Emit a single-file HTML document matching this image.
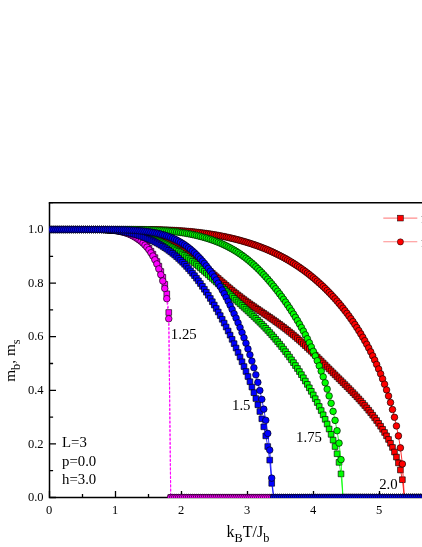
<!DOCTYPE html>
<html><head><meta charset="utf-8"><title>chart</title>
<style>
html,body{margin:0;padding:0;background:#fff;}
body{width:422px;height:547px;overflow:hidden;font-family:"Liberation Serif",serif;}
svg{display:block;font-family:"Liberation Serif",serif;}
</style></head><body>
<svg width="422" height="547" viewBox="0 0 422 547">
<rect width="422" height="547" fill="#fff"/>
<defs><clipPath id="c"><rect x="49" y="202.7" width="400" height="295.3"/></clipPath></defs>
<path d="M49.5 202.7V497.5H430" fill="none" stroke="#000" stroke-width="1.5"/>
<path d="M48.75 202.7H430" fill="none" stroke="#000" stroke-width="1.5"/>
<path d="M49.5 497.5h6.5M49.5 470.7h3.6M49.5 443.9h6.5M49.5 417.1h3.6M49.5 390.3h6.5M49.5 363.5h3.6M49.5 336.7h6.5M49.5 309.9h3.6M49.5 283.1h6.5M49.5 256.3h3.6M49.5 229.5h6.5M49.5 202.7h3.6M49.5 497.5v-6.5M82.5 497.5v-3.6M115.5 497.5v-6.5M148.5 497.5v-3.6M181.5 497.5v-6.5M214.5 497.5v-3.6M247.5 497.5v-6.5M280.5 497.5v-3.6M313.5 497.5v-6.5M346.5 497.5v-3.6M379.5 497.5v-6.5M412.5 497.5v-3.6" fill="none" stroke="#000" stroke-width="1.3"/>
<g clip-path="url(#c)">
<polyline points="49.95,229.5 51.93,229.5 53.91,229.5 55.89,229.5 57.87,229.5 59.85,229.5 61.83,229.5 63.81,229.5 65.79,229.5 67.77,229.5 69.75,229.5 71.73,229.5 73.71,229.5 75.69,229.5 77.67,229.5 79.65,229.5 81.63,229.5 83.61,229.5 85.59,229.5 87.57,229.5 89.55,229.5 91.53,229.5 93.51,229.5 95.49,229.51 97.47,229.53 99.45,229.55 101.43,229.58 103.41,229.62 105.39,229.68 107.37,229.74 109.35,229.82 111.33,229.91 113.31,230.01 115.29,230.13 117.27,230.27 119.25,230.43 121.23,230.61 123.21,230.81 125.19,231.03 127.17,231.27 129.15,231.53 131.13,231.81 133.11,232.12 135.09,232.45 137.07,232.81 139.05,233.19 141.03,233.6 143.01,234.04 144.99,234.51 146.97,235 148.95,235.53 150.93,236.08 152.91,236.67 154.89,237.3 156.87,237.96 158.85,238.66 160.83,239.39 162.81,240.17 164.79,240.98 166.77,241.84 168.75,242.74 170.73,243.69 172.71,244.68 174.69,245.72 176.67,246.8 178.65,247.93 180.63,249.11 182.61,250.34 184.59,251.61 186.57,252.93 188.55,254.29 190.53,255.7 192.51,257.14 194.49,258.63 196.47,260.16 198.45,261.72 200.43,263.32 202.41,264.94 204.39,266.58 206.37,268.23 208.35,269.9 210.33,271.58 212.31,273.28 214.29,275 216.27,276.73 218.25,278.46 220.23,280.2 222.21,281.92 224.19,283.63 226.17,285.32 228.15,287 230.13,288.66 232.11,290.29 234.09,291.91 236.07,293.49 238.05,295.05 240.03,296.58 242.01,298.09 243.99,299.57 245.97,301.03 247.95,302.46 249.93,303.87 251.91,305.26 253.89,306.63 255.87,308 257.85,309.35 259.83,310.7 261.81,312.04 263.79,313.37 265.77,314.71 267.75,316.05 269.73,317.39 271.71,318.76 273.69,320.13 275.67,321.53 277.65,322.94 279.63,324.37 281.61,325.83 283.59,327.31 285.57,328.82 287.55,330.35 289.53,331.93 291.51,333.54 293.49,335.18 295.47,336.85 297.45,338.56 299.43,340.29 301.41,342.06 303.39,343.86 305.37,345.69 307.35,347.55 309.33,349.42 311.31,351.32 313.29,353.24 315.27,355.17 317.25,357.11 319.23,359.07 321.21,361.03 323.19,363.01 325.17,364.99 327.15,366.96 329.13,368.93 331.11,370.9 333.09,372.86 335.07,374.82 337.05,376.79 339.03,378.75 341.01,380.7 342.99,382.67 344.97,384.63 346.95,386.61 348.93,388.6 350.91,390.61 352.89,392.65 354.87,394.7 356.85,396.79 358.83,398.91 360.81,401.07 362.79,403.28 364.77,405.55 366.75,407.87 368.73,410.26 370.71,412.71 372.69,415.23 374.67,417.84 376.65,420.53 378.63,423.33 380.61,426.24 382.59,429.3 384.57,432.5 386.55,435.88 388.53,439.47 390.51,443.31 392.49,447.46 394.47,452.01 396.45,457.08 398.43,462.9 400.41,469.97 402.39,479.69 404.37,497.5 406.35,497.5 408.33,497.5 410.31,497.5 412.29,497.5 414.27,497.5 416.25,497.5 418.23,497.5 420.21,497.5 422.19,497.5 424.17,497.5 426.15,497.5 428.13,497.5 430.11,497.5 432.09,497.5" fill="none" stroke="#f00" stroke-width="0.8"/>
<g fill="#f00" stroke="#000" stroke-width="0.65"><path d="M47.1 226.65h5.7v5.7h-5.7z"/><path d="M49.08 226.65h5.7v5.7h-5.7z"/><path d="M51.06 226.65h5.7v5.7h-5.7z"/><path d="M53.04 226.65h5.7v5.7h-5.7z"/><path d="M55.02 226.65h5.7v5.7h-5.7z"/><path d="M57 226.65h5.7v5.7h-5.7z"/><path d="M58.98 226.65h5.7v5.7h-5.7z"/><path d="M60.96 226.65h5.7v5.7h-5.7z"/><path d="M62.94 226.65h5.7v5.7h-5.7z"/><path d="M64.92 226.65h5.7v5.7h-5.7z"/><path d="M66.9 226.65h5.7v5.7h-5.7z"/><path d="M68.88 226.65h5.7v5.7h-5.7z"/><path d="M70.86 226.65h5.7v5.7h-5.7z"/><path d="M72.84 226.65h5.7v5.7h-5.7z"/><path d="M74.82 226.65h5.7v5.7h-5.7z"/><path d="M76.8 226.65h5.7v5.7h-5.7z"/><path d="M78.78 226.65h5.7v5.7h-5.7z"/><path d="M80.76 226.65h5.7v5.7h-5.7z"/><path d="M82.74 226.65h5.7v5.7h-5.7z"/><path d="M84.72 226.65h5.7v5.7h-5.7z"/><path d="M86.7 226.65h5.7v5.7h-5.7z"/><path d="M88.68 226.65h5.7v5.7h-5.7z"/><path d="M90.66 226.65h5.7v5.7h-5.7z"/><path d="M92.64 226.66h5.7v5.7h-5.7z"/><path d="M94.62 226.68h5.7v5.7h-5.7z"/><path d="M96.6 226.7h5.7v5.7h-5.7z"/><path d="M98.58 226.73h5.7v5.7h-5.7z"/><path d="M100.56 226.77h5.7v5.7h-5.7z"/><path d="M102.54 226.83h5.7v5.7h-5.7z"/><path d="M104.52 226.89h5.7v5.7h-5.7z"/><path d="M106.5 226.97h5.7v5.7h-5.7z"/><path d="M108.48 227.06h5.7v5.7h-5.7z"/><path d="M110.46 227.16h5.7v5.7h-5.7z"/><path d="M112.44 227.28h5.7v5.7h-5.7z"/><path d="M114.42 227.42h5.7v5.7h-5.7z"/><path d="M116.4 227.58h5.7v5.7h-5.7z"/><path d="M118.38 227.76h5.7v5.7h-5.7z"/><path d="M120.36 227.96h5.7v5.7h-5.7z"/><path d="M122.34 228.18h5.7v5.7h-5.7z"/><path d="M124.32 228.42h5.7v5.7h-5.7z"/><path d="M126.3 228.68h5.7v5.7h-5.7z"/><path d="M128.28 228.96h5.7v5.7h-5.7z"/><path d="M130.26 229.27h5.7v5.7h-5.7z"/><path d="M132.24 229.6h5.7v5.7h-5.7z"/><path d="M134.22 229.96h5.7v5.7h-5.7z"/><path d="M136.2 230.34h5.7v5.7h-5.7z"/><path d="M138.18 230.75h5.7v5.7h-5.7z"/><path d="M140.16 231.19h5.7v5.7h-5.7z"/><path d="M142.14 231.66h5.7v5.7h-5.7z"/><path d="M144.12 232.15h5.7v5.7h-5.7z"/><path d="M146.1 232.68h5.7v5.7h-5.7z"/><path d="M148.08 233.23h5.7v5.7h-5.7z"/><path d="M150.06 233.82h5.7v5.7h-5.7z"/><path d="M152.04 234.45h5.7v5.7h-5.7z"/><path d="M154.02 235.11h5.7v5.7h-5.7z"/><path d="M156 235.81h5.7v5.7h-5.7z"/><path d="M157.98 236.54h5.7v5.7h-5.7z"/><path d="M159.96 237.32h5.7v5.7h-5.7z"/><path d="M161.94 238.13h5.7v5.7h-5.7z"/><path d="M163.92 238.99h5.7v5.7h-5.7z"/><path d="M165.9 239.89h5.7v5.7h-5.7z"/><path d="M167.88 240.84h5.7v5.7h-5.7z"/><path d="M169.86 241.83h5.7v5.7h-5.7z"/><path d="M171.84 242.87h5.7v5.7h-5.7z"/><path d="M173.82 243.95h5.7v5.7h-5.7z"/><path d="M175.8 245.08h5.7v5.7h-5.7z"/><path d="M177.78 246.26h5.7v5.7h-5.7z"/><path d="M179.76 247.49h5.7v5.7h-5.7z"/><path d="M181.74 248.76h5.7v5.7h-5.7z"/><path d="M183.72 250.08h5.7v5.7h-5.7z"/><path d="M185.7 251.44h5.7v5.7h-5.7z"/><path d="M187.68 252.85h5.7v5.7h-5.7z"/><path d="M189.66 254.29h5.7v5.7h-5.7z"/><path d="M191.64 255.78h5.7v5.7h-5.7z"/><path d="M193.62 257.31h5.7v5.7h-5.7z"/><path d="M195.6 258.87h5.7v5.7h-5.7z"/><path d="M197.58 260.47h5.7v5.7h-5.7z"/><path d="M199.56 262.09h5.7v5.7h-5.7z"/><path d="M201.54 263.73h5.7v5.7h-5.7z"/><path d="M203.52 265.38h5.7v5.7h-5.7z"/><path d="M205.5 267.05h5.7v5.7h-5.7z"/><path d="M207.48 268.73h5.7v5.7h-5.7z"/><path d="M209.46 270.43h5.7v5.7h-5.7z"/><path d="M211.44 272.15h5.7v5.7h-5.7z"/><path d="M213.42 273.88h5.7v5.7h-5.7z"/><path d="M215.4 275.61h5.7v5.7h-5.7z"/><path d="M217.38 277.35h5.7v5.7h-5.7z"/><path d="M219.36 279.07h5.7v5.7h-5.7z"/><path d="M221.34 280.78h5.7v5.7h-5.7z"/><path d="M223.32 282.47h5.7v5.7h-5.7z"/><path d="M225.3 284.15h5.7v5.7h-5.7z"/><path d="M227.28 285.81h5.7v5.7h-5.7z"/><path d="M229.26 287.44h5.7v5.7h-5.7z"/><path d="M231.24 289.06h5.7v5.7h-5.7z"/><path d="M233.22 290.64h5.7v5.7h-5.7z"/><path d="M235.2 292.2h5.7v5.7h-5.7z"/><path d="M237.18 293.73h5.7v5.7h-5.7z"/><path d="M239.16 295.24h5.7v5.7h-5.7z"/><path d="M241.14 296.72h5.7v5.7h-5.7z"/><path d="M243.12 298.18h5.7v5.7h-5.7z"/><path d="M245.1 299.61h5.7v5.7h-5.7z"/><path d="M247.08 301.02h5.7v5.7h-5.7z"/><path d="M249.06 302.41h5.7v5.7h-5.7z"/><path d="M251.04 303.78h5.7v5.7h-5.7z"/><path d="M253.02 305.15h5.7v5.7h-5.7z"/><path d="M255 306.5h5.7v5.7h-5.7z"/><path d="M256.98 307.85h5.7v5.7h-5.7z"/><path d="M258.96 309.19h5.7v5.7h-5.7z"/><path d="M260.94 310.52h5.7v5.7h-5.7z"/><path d="M262.92 311.86h5.7v5.7h-5.7z"/><path d="M264.9 313.2h5.7v5.7h-5.7z"/><path d="M266.88 314.54h5.7v5.7h-5.7z"/><path d="M268.86 315.91h5.7v5.7h-5.7z"/><path d="M270.84 317.28h5.7v5.7h-5.7z"/><path d="M272.82 318.68h5.7v5.7h-5.7z"/><path d="M274.8 320.09h5.7v5.7h-5.7z"/><path d="M276.78 321.52h5.7v5.7h-5.7z"/><path d="M278.76 322.98h5.7v5.7h-5.7z"/><path d="M280.74 324.46h5.7v5.7h-5.7z"/><path d="M282.72 325.97h5.7v5.7h-5.7z"/><path d="M284.7 327.5h5.7v5.7h-5.7z"/><path d="M286.68 329.08h5.7v5.7h-5.7z"/><path d="M288.66 330.69h5.7v5.7h-5.7z"/><path d="M290.64 332.33h5.7v5.7h-5.7z"/><path d="M292.62 334h5.7v5.7h-5.7z"/><path d="M294.6 335.71h5.7v5.7h-5.7z"/><path d="M296.58 337.44h5.7v5.7h-5.7z"/><path d="M298.56 339.21h5.7v5.7h-5.7z"/><path d="M300.54 341.01h5.7v5.7h-5.7z"/><path d="M302.52 342.84h5.7v5.7h-5.7z"/><path d="M304.5 344.7h5.7v5.7h-5.7z"/><path d="M306.48 346.57h5.7v5.7h-5.7z"/><path d="M308.46 348.47h5.7v5.7h-5.7z"/><path d="M310.44 350.39h5.7v5.7h-5.7z"/><path d="M312.42 352.32h5.7v5.7h-5.7z"/><path d="M314.4 354.26h5.7v5.7h-5.7z"/><path d="M316.38 356.22h5.7v5.7h-5.7z"/><path d="M318.36 358.18h5.7v5.7h-5.7z"/><path d="M320.34 360.16h5.7v5.7h-5.7z"/><path d="M322.32 362.14h5.7v5.7h-5.7z"/><path d="M324.3 364.11h5.7v5.7h-5.7z"/><path d="M326.28 366.08h5.7v5.7h-5.7z"/><path d="M328.26 368.05h5.7v5.7h-5.7z"/><path d="M330.24 370.01h5.7v5.7h-5.7z"/><path d="M332.22 371.97h5.7v5.7h-5.7z"/><path d="M334.2 373.94h5.7v5.7h-5.7z"/><path d="M336.18 375.9h5.7v5.7h-5.7z"/><path d="M338.16 377.85h5.7v5.7h-5.7z"/><path d="M340.14 379.82h5.7v5.7h-5.7z"/><path d="M342.12 381.78h5.7v5.7h-5.7z"/><path d="M344.1 383.76h5.7v5.7h-5.7z"/><path d="M346.08 385.75h5.7v5.7h-5.7z"/><path d="M348.06 387.76h5.7v5.7h-5.7z"/><path d="M350.04 389.8h5.7v5.7h-5.7z"/><path d="M352.02 391.85h5.7v5.7h-5.7z"/><path d="M354 393.94h5.7v5.7h-5.7z"/><path d="M355.98 396.06h5.7v5.7h-5.7z"/><path d="M357.96 398.22h5.7v5.7h-5.7z"/><path d="M359.94 400.43h5.7v5.7h-5.7z"/><path d="M361.92 402.7h5.7v5.7h-5.7z"/><path d="M363.9 405.02h5.7v5.7h-5.7z"/><path d="M365.88 407.41h5.7v5.7h-5.7z"/><path d="M367.86 409.86h5.7v5.7h-5.7z"/><path d="M369.84 412.38h5.7v5.7h-5.7z"/><path d="M371.82 414.99h5.7v5.7h-5.7z"/><path d="M373.8 417.68h5.7v5.7h-5.7z"/><path d="M375.78 420.48h5.7v5.7h-5.7z"/><path d="M377.76 423.39h5.7v5.7h-5.7z"/><path d="M379.74 426.45h5.7v5.7h-5.7z"/><path d="M381.72 429.65h5.7v5.7h-5.7z"/><path d="M383.7 433.03h5.7v5.7h-5.7z"/><path d="M385.68 436.62h5.7v5.7h-5.7z"/><path d="M387.66 440.46h5.7v5.7h-5.7z"/><path d="M389.64 444.61h5.7v5.7h-5.7z"/><path d="M391.62 449.16h5.7v5.7h-5.7z"/><path d="M393.6 454.23h5.7v5.7h-5.7z"/><path d="M395.58 460.05h5.7v5.7h-5.7z"/><path d="M397.56 467.12h5.7v5.7h-5.7z"/><path d="M399.54 476.84h5.7v5.7h-5.7z"/><path d="M401.52 494.65h5.7v5.7h-5.7z"/><path d="M403.5 494.65h5.7v5.7h-5.7z"/><path d="M405.48 494.65h5.7v5.7h-5.7z"/><path d="M407.46 494.65h5.7v5.7h-5.7z"/><path d="M409.44 494.65h5.7v5.7h-5.7z"/><path d="M411.42 494.65h5.7v5.7h-5.7z"/><path d="M413.4 494.65h5.7v5.7h-5.7z"/><path d="M415.38 494.65h5.7v5.7h-5.7z"/><path d="M417.36 494.65h5.7v5.7h-5.7z"/><path d="M419.34 494.65h5.7v5.7h-5.7z"/><path d="M421.32 494.65h5.7v5.7h-5.7z"/><path d="M423.3 494.65h5.7v5.7h-5.7z"/><path d="M425.28 494.65h5.7v5.7h-5.7z"/><path d="M427.26 494.65h5.7v5.7h-5.7z"/><path d="M429.24 494.65h5.7v5.7h-5.7z"/></g>
<polyline points="49.95,229.5 51.93,229.5 53.91,229.5 55.89,229.5 57.87,229.5 59.85,229.5 61.83,229.5 63.81,229.5 65.79,229.5 67.77,229.5 69.75,229.5 71.73,229.5 73.71,229.5 75.69,229.5 77.67,229.5 79.65,229.5 81.63,229.5 83.61,229.5 85.59,229.5 87.57,229.5 89.55,229.5 91.53,229.5 93.51,229.5 95.49,229.5 97.47,229.5 99.45,229.5 101.43,229.5 103.41,229.5 105.39,229.5 107.37,229.5 109.35,229.5 111.33,229.5 113.31,229.5 115.29,229.5 117.27,229.5 119.25,229.5 121.23,229.5 123.21,229.5 125.19,229.5 127.17,229.5 129.15,229.51 131.13,229.51 133.11,229.52 135.09,229.52 137.07,229.53 139.05,229.54 141.03,229.56 143.01,229.57 144.99,229.59 146.97,229.62 148.95,229.65 150.93,229.68 152.91,229.71 154.89,229.75 156.87,229.8 158.85,229.85 160.83,229.91 162.81,229.97 164.79,230.04 166.77,230.11 168.75,230.2 170.73,230.29 172.71,230.38 174.69,230.49 176.67,230.6 178.65,230.73 180.63,230.86 182.61,231 184.59,231.15 186.57,231.31 188.55,231.48 190.53,231.67 192.51,231.86 194.49,232.06 196.47,232.28 198.45,232.51 200.43,232.74 202.41,233 204.39,233.26 206.37,233.53 208.35,233.82 210.33,234.12 212.31,234.44 214.29,234.77 216.27,235.11 218.25,235.47 220.23,235.84 222.21,236.22 224.19,236.62 226.17,237.04 228.15,237.47 230.13,237.92 232.11,238.38 234.09,238.86 236.07,239.36 238.05,239.87 240.03,240.4 242.01,240.95 243.99,241.51 245.97,242.1 247.95,242.7 249.93,243.33 251.91,243.97 253.89,244.63 255.87,245.32 257.85,246.03 259.83,246.76 261.81,247.51 263.79,248.29 265.77,249.09 267.75,249.92 269.73,250.78 271.71,251.66 273.69,252.57 275.67,253.51 277.65,254.48 279.63,255.48 281.61,256.51 283.59,257.57 285.57,258.67 287.55,259.8 289.53,260.96 291.51,262.16 293.49,263.39 295.47,264.66 297.45,265.96 299.43,267.3 301.41,268.68 303.39,270.1 305.37,271.56 307.35,273.06 309.33,274.6 311.31,276.18 313.29,277.81 315.27,279.48 317.25,281.19 319.23,282.95 321.21,284.76 323.19,286.62 325.17,288.52 327.15,290.48 329.13,292.49 331.11,294.56 333.09,296.68 335.07,298.86 337.05,301.1 339.03,303.4 341.01,305.78 342.99,308.22 344.97,310.74 346.95,313.33 348.93,316 350.91,318.76 352.89,321.6 354.87,324.53 356.85,327.56 358.83,330.68 360.81,333.91 362.79,337.26 364.77,340.71 366.75,344.3 368.73,348.01 370.71,351.87 372.69,355.88 374.67,360.06 376.65,364.43 378.63,369.01 380.61,373.82 382.59,378.88 384.57,384.24 386.55,389.93 388.53,395.99 390.51,402.51 392.49,409.57 394.47,417.31 396.45,425.96 398.43,435.89 400.41,447.87 402.39,463.99 404.37,497.5 406.35,497.5 408.33,497.5 410.31,497.5 412.29,497.5 414.27,497.5 416.25,497.5 418.23,497.5 420.21,497.5 422.19,497.5 424.17,497.5 426.15,497.5 428.13,497.5 430.11,497.5 432.09,497.5" fill="none" stroke="#f00" stroke-width="0.8"/>
<g fill="#f00" stroke="#000" stroke-width="0.65"><circle cx="49.95" cy="229.5" r="3.3"/><circle cx="51.93" cy="229.5" r="3.3"/><circle cx="53.91" cy="229.5" r="3.3"/><circle cx="55.89" cy="229.5" r="3.3"/><circle cx="57.87" cy="229.5" r="3.3"/><circle cx="59.85" cy="229.5" r="3.3"/><circle cx="61.83" cy="229.5" r="3.3"/><circle cx="63.81" cy="229.5" r="3.3"/><circle cx="65.79" cy="229.5" r="3.3"/><circle cx="67.77" cy="229.5" r="3.3"/><circle cx="69.75" cy="229.5" r="3.3"/><circle cx="71.73" cy="229.5" r="3.3"/><circle cx="73.71" cy="229.5" r="3.3"/><circle cx="75.69" cy="229.5" r="3.3"/><circle cx="77.67" cy="229.5" r="3.3"/><circle cx="79.65" cy="229.5" r="3.3"/><circle cx="81.63" cy="229.5" r="3.3"/><circle cx="83.61" cy="229.5" r="3.3"/><circle cx="85.59" cy="229.5" r="3.3"/><circle cx="87.57" cy="229.5" r="3.3"/><circle cx="89.55" cy="229.5" r="3.3"/><circle cx="91.53" cy="229.5" r="3.3"/><circle cx="93.51" cy="229.5" r="3.3"/><circle cx="95.49" cy="229.5" r="3.3"/><circle cx="97.47" cy="229.5" r="3.3"/><circle cx="99.45" cy="229.5" r="3.3"/><circle cx="101.43" cy="229.5" r="3.3"/><circle cx="103.41" cy="229.5" r="3.3"/><circle cx="105.39" cy="229.5" r="3.3"/><circle cx="107.37" cy="229.5" r="3.3"/><circle cx="109.35" cy="229.5" r="3.3"/><circle cx="111.33" cy="229.5" r="3.3"/><circle cx="113.31" cy="229.5" r="3.3"/><circle cx="115.29" cy="229.5" r="3.3"/><circle cx="117.27" cy="229.5" r="3.3"/><circle cx="119.25" cy="229.5" r="3.3"/><circle cx="121.23" cy="229.5" r="3.3"/><circle cx="123.21" cy="229.5" r="3.3"/><circle cx="125.19" cy="229.5" r="3.3"/><circle cx="127.17" cy="229.5" r="3.3"/><circle cx="129.15" cy="229.51" r="3.3"/><circle cx="131.13" cy="229.51" r="3.3"/><circle cx="133.11" cy="229.52" r="3.3"/><circle cx="135.09" cy="229.52" r="3.3"/><circle cx="137.07" cy="229.53" r="3.3"/><circle cx="139.05" cy="229.54" r="3.3"/><circle cx="141.03" cy="229.56" r="3.3"/><circle cx="143.01" cy="229.57" r="3.3"/><circle cx="144.99" cy="229.59" r="3.3"/><circle cx="146.97" cy="229.62" r="3.3"/><circle cx="148.95" cy="229.65" r="3.3"/><circle cx="150.93" cy="229.68" r="3.3"/><circle cx="152.91" cy="229.71" r="3.3"/><circle cx="154.89" cy="229.75" r="3.3"/><circle cx="156.87" cy="229.8" r="3.3"/><circle cx="158.85" cy="229.85" r="3.3"/><circle cx="160.83" cy="229.91" r="3.3"/><circle cx="162.81" cy="229.97" r="3.3"/><circle cx="164.79" cy="230.04" r="3.3"/><circle cx="166.77" cy="230.11" r="3.3"/><circle cx="168.75" cy="230.2" r="3.3"/><circle cx="170.73" cy="230.29" r="3.3"/><circle cx="172.71" cy="230.38" r="3.3"/><circle cx="174.69" cy="230.49" r="3.3"/><circle cx="176.67" cy="230.6" r="3.3"/><circle cx="178.65" cy="230.73" r="3.3"/><circle cx="180.63" cy="230.86" r="3.3"/><circle cx="182.61" cy="231" r="3.3"/><circle cx="184.59" cy="231.15" r="3.3"/><circle cx="186.57" cy="231.31" r="3.3"/><circle cx="188.55" cy="231.48" r="3.3"/><circle cx="190.53" cy="231.67" r="3.3"/><circle cx="192.51" cy="231.86" r="3.3"/><circle cx="194.49" cy="232.06" r="3.3"/><circle cx="196.47" cy="232.28" r="3.3"/><circle cx="198.45" cy="232.51" r="3.3"/><circle cx="200.43" cy="232.74" r="3.3"/><circle cx="202.41" cy="233" r="3.3"/><circle cx="204.39" cy="233.26" r="3.3"/><circle cx="206.37" cy="233.53" r="3.3"/><circle cx="208.35" cy="233.82" r="3.3"/><circle cx="210.33" cy="234.12" r="3.3"/><circle cx="212.31" cy="234.44" r="3.3"/><circle cx="214.29" cy="234.77" r="3.3"/><circle cx="216.27" cy="235.11" r="3.3"/><circle cx="218.25" cy="235.47" r="3.3"/><circle cx="220.23" cy="235.84" r="3.3"/><circle cx="222.21" cy="236.22" r="3.3"/><circle cx="224.19" cy="236.62" r="3.3"/><circle cx="226.17" cy="237.04" r="3.3"/><circle cx="228.15" cy="237.47" r="3.3"/><circle cx="230.13" cy="237.92" r="3.3"/><circle cx="232.11" cy="238.38" r="3.3"/><circle cx="234.09" cy="238.86" r="3.3"/><circle cx="236.07" cy="239.36" r="3.3"/><circle cx="238.05" cy="239.87" r="3.3"/><circle cx="240.03" cy="240.4" r="3.3"/><circle cx="242.01" cy="240.95" r="3.3"/><circle cx="243.99" cy="241.51" r="3.3"/><circle cx="245.97" cy="242.1" r="3.3"/><circle cx="247.95" cy="242.7" r="3.3"/><circle cx="249.93" cy="243.33" r="3.3"/><circle cx="251.91" cy="243.97" r="3.3"/><circle cx="253.89" cy="244.63" r="3.3"/><circle cx="255.87" cy="245.32" r="3.3"/><circle cx="257.85" cy="246.03" r="3.3"/><circle cx="259.83" cy="246.76" r="3.3"/><circle cx="261.81" cy="247.51" r="3.3"/><circle cx="263.79" cy="248.29" r="3.3"/><circle cx="265.77" cy="249.09" r="3.3"/><circle cx="267.75" cy="249.92" r="3.3"/><circle cx="269.73" cy="250.78" r="3.3"/><circle cx="271.71" cy="251.66" r="3.3"/><circle cx="273.69" cy="252.57" r="3.3"/><circle cx="275.67" cy="253.51" r="3.3"/><circle cx="277.65" cy="254.48" r="3.3"/><circle cx="279.63" cy="255.48" r="3.3"/><circle cx="281.61" cy="256.51" r="3.3"/><circle cx="283.59" cy="257.57" r="3.3"/><circle cx="285.57" cy="258.67" r="3.3"/><circle cx="287.55" cy="259.8" r="3.3"/><circle cx="289.53" cy="260.96" r="3.3"/><circle cx="291.51" cy="262.16" r="3.3"/><circle cx="293.49" cy="263.39" r="3.3"/><circle cx="295.47" cy="264.66" r="3.3"/><circle cx="297.45" cy="265.96" r="3.3"/><circle cx="299.43" cy="267.3" r="3.3"/><circle cx="301.41" cy="268.68" r="3.3"/><circle cx="303.39" cy="270.1" r="3.3"/><circle cx="305.37" cy="271.56" r="3.3"/><circle cx="307.35" cy="273.06" r="3.3"/><circle cx="309.33" cy="274.6" r="3.3"/><circle cx="311.31" cy="276.18" r="3.3"/><circle cx="313.29" cy="277.81" r="3.3"/><circle cx="315.27" cy="279.48" r="3.3"/><circle cx="317.25" cy="281.19" r="3.3"/><circle cx="319.23" cy="282.95" r="3.3"/><circle cx="321.21" cy="284.76" r="3.3"/><circle cx="323.19" cy="286.62" r="3.3"/><circle cx="325.17" cy="288.52" r="3.3"/><circle cx="327.15" cy="290.48" r="3.3"/><circle cx="329.13" cy="292.49" r="3.3"/><circle cx="331.11" cy="294.56" r="3.3"/><circle cx="333.09" cy="296.68" r="3.3"/><circle cx="335.07" cy="298.86" r="3.3"/><circle cx="337.05" cy="301.1" r="3.3"/><circle cx="339.03" cy="303.4" r="3.3"/><circle cx="341.01" cy="305.78" r="3.3"/><circle cx="342.99" cy="308.22" r="3.3"/><circle cx="344.97" cy="310.74" r="3.3"/><circle cx="346.95" cy="313.33" r="3.3"/><circle cx="348.93" cy="316" r="3.3"/><circle cx="350.91" cy="318.76" r="3.3"/><circle cx="352.89" cy="321.6" r="3.3"/><circle cx="354.87" cy="324.53" r="3.3"/><circle cx="356.85" cy="327.56" r="3.3"/><circle cx="358.83" cy="330.68" r="3.3"/><circle cx="360.81" cy="333.91" r="3.3"/><circle cx="362.79" cy="337.26" r="3.3"/><circle cx="364.77" cy="340.71" r="3.3"/><circle cx="366.75" cy="344.3" r="3.3"/><circle cx="368.73" cy="348.01" r="3.3"/><circle cx="370.71" cy="351.87" r="3.3"/><circle cx="372.69" cy="355.88" r="3.3"/><circle cx="374.67" cy="360.06" r="3.3"/><circle cx="376.65" cy="364.43" r="3.3"/><circle cx="378.63" cy="369.01" r="3.3"/><circle cx="380.61" cy="373.82" r="3.3"/><circle cx="382.59" cy="378.88" r="3.3"/><circle cx="384.57" cy="384.24" r="3.3"/><circle cx="386.55" cy="389.93" r="3.3"/><circle cx="388.53" cy="395.99" r="3.3"/><circle cx="390.51" cy="402.51" r="3.3"/><circle cx="392.49" cy="409.57" r="3.3"/><circle cx="394.47" cy="417.31" r="3.3"/><circle cx="396.45" cy="425.96" r="3.3"/><circle cx="398.43" cy="435.89" r="3.3"/><circle cx="400.41" cy="447.87" r="3.3"/><circle cx="402.39" cy="463.99" r="3.3"/><circle cx="404.37" cy="497.5" r="3.3"/><circle cx="406.35" cy="497.5" r="3.3"/><circle cx="408.33" cy="497.5" r="3.3"/><circle cx="410.31" cy="497.5" r="3.3"/><circle cx="412.29" cy="497.5" r="3.3"/><circle cx="414.27" cy="497.5" r="3.3"/><circle cx="416.25" cy="497.5" r="3.3"/><circle cx="418.23" cy="497.5" r="3.3"/><circle cx="420.21" cy="497.5" r="3.3"/><circle cx="422.19" cy="497.5" r="3.3"/><circle cx="424.17" cy="497.5" r="3.3"/><circle cx="426.15" cy="497.5" r="3.3"/><circle cx="428.13" cy="497.5" r="3.3"/><circle cx="430.11" cy="497.5" r="3.3"/><circle cx="432.09" cy="497.5" r="3.3"/></g>
<polyline points="49.95,229.5 51.93,229.5 53.91,229.5 55.89,229.5 57.87,229.5 59.85,229.5 61.83,229.5 63.81,229.5 65.79,229.5 67.77,229.5 69.75,229.5 71.73,229.5 73.71,229.5 75.69,229.5 77.67,229.5 79.65,229.5 81.63,229.5 83.61,229.5 85.59,229.5 87.57,229.5 89.55,229.5 91.53,229.5 93.51,229.5 95.49,229.52 97.47,229.54 99.45,229.57 101.43,229.62 103.41,229.68 105.39,229.76 107.37,229.85 109.35,229.96 111.33,230.09 113.31,230.24 115.29,230.4 117.27,230.6 119.25,230.82 121.23,231.06 123.21,231.33 125.19,231.62 127.17,231.95 129.15,232.29 131.13,232.67 133.11,233.07 135.09,233.49 137.07,233.95 139.05,234.44 141.03,234.95 143.01,235.5 144.99,236.07 146.97,236.67 148.95,237.31 150.93,237.98 152.91,238.69 154.89,239.43 156.87,240.2 158.85,241.01 160.83,241.86 162.81,242.75 164.79,243.68 166.77,244.65 168.75,245.67 170.73,246.73 172.71,247.83 174.69,248.98 176.67,250.18 178.65,251.41 180.63,252.7 182.61,254.03 184.59,255.41 186.57,256.84 188.55,258.3 190.53,259.81 192.51,261.35 194.49,262.93 196.47,264.55 198.45,266.21 200.43,267.9 202.41,269.61 204.39,271.33 206.37,273.07 208.35,274.83 210.33,276.6 212.31,278.39 214.29,280.19 216.27,282.01 218.25,283.84 220.23,285.68 222.21,287.51 224.19,289.33 226.17,291.15 228.15,292.97 230.13,294.78 232.11,296.59 234.09,298.39 236.07,300.18 238.05,301.97 240.03,303.75 242.01,305.54 243.99,307.34 245.97,309.15 247.95,310.98 249.93,312.81 251.91,314.66 253.89,316.53 255.87,318.41 257.85,320.32 259.83,322.26 261.81,324.24 263.79,326.26 265.77,328.33 267.75,330.43 269.73,332.58 271.71,334.78 273.69,337.03 275.67,339.34 277.65,341.7 279.63,344.11 281.61,346.58 283.59,349.11 285.57,351.7 287.55,354.34 289.53,357.05 291.51,359.82 293.49,362.66 295.47,365.56 297.45,368.52 299.43,371.55 301.41,374.65 303.39,377.82 305.37,381.07 307.35,384.41 309.33,387.83 311.31,391.35 313.29,394.96 315.27,398.68 317.25,402.51 319.23,406.47 321.21,410.58 323.19,414.85 325.17,419.33 327.15,424.03 329.13,429.02 331.11,434.36 333.09,440.14 335.07,446.51 337.05,453.75 339.03,462.38 341.01,473.87 342.99,497.5 344.97,497.5 346.95,497.5 348.93,497.5 350.91,497.5 352.89,497.5 354.87,497.5 356.85,497.5 358.83,497.5 360.81,497.5 362.79,497.5 364.77,497.5 366.75,497.5 368.73,497.5 370.71,497.5 372.69,497.5 374.67,497.5 376.65,497.5 378.63,497.5 380.61,497.5 382.59,497.5 384.57,497.5 386.55,497.5 388.53,497.5 390.51,497.5 392.49,497.5 394.47,497.5 396.45,497.5 398.43,497.5 400.41,497.5 402.39,497.5 404.37,497.5 406.35,497.5 408.33,497.5 410.31,497.5 412.29,497.5 414.27,497.5 416.25,497.5 418.23,497.5 420.21,497.5 422.19,497.5 424.17,497.5 426.15,497.5 428.13,497.5 430.11,497.5 432.09,497.5" fill="none" stroke="#0f0" stroke-width="0.8"/>
<g fill="#0f0" stroke="#000" stroke-width="0.65"><path d="M47.1 226.65h5.7v5.7h-5.7z"/><path d="M49.08 226.65h5.7v5.7h-5.7z"/><path d="M51.06 226.65h5.7v5.7h-5.7z"/><path d="M53.04 226.65h5.7v5.7h-5.7z"/><path d="M55.02 226.65h5.7v5.7h-5.7z"/><path d="M57 226.65h5.7v5.7h-5.7z"/><path d="M58.98 226.65h5.7v5.7h-5.7z"/><path d="M60.96 226.65h5.7v5.7h-5.7z"/><path d="M62.94 226.65h5.7v5.7h-5.7z"/><path d="M64.92 226.65h5.7v5.7h-5.7z"/><path d="M66.9 226.65h5.7v5.7h-5.7z"/><path d="M68.88 226.65h5.7v5.7h-5.7z"/><path d="M70.86 226.65h5.7v5.7h-5.7z"/><path d="M72.84 226.65h5.7v5.7h-5.7z"/><path d="M74.82 226.65h5.7v5.7h-5.7z"/><path d="M76.8 226.65h5.7v5.7h-5.7z"/><path d="M78.78 226.65h5.7v5.7h-5.7z"/><path d="M80.76 226.65h5.7v5.7h-5.7z"/><path d="M82.74 226.65h5.7v5.7h-5.7z"/><path d="M84.72 226.65h5.7v5.7h-5.7z"/><path d="M86.7 226.65h5.7v5.7h-5.7z"/><path d="M88.68 226.65h5.7v5.7h-5.7z"/><path d="M90.66 226.65h5.7v5.7h-5.7z"/><path d="M92.64 226.67h5.7v5.7h-5.7z"/><path d="M94.62 226.69h5.7v5.7h-5.7z"/><path d="M96.6 226.72h5.7v5.7h-5.7z"/><path d="M98.58 226.77h5.7v5.7h-5.7z"/><path d="M100.56 226.83h5.7v5.7h-5.7z"/><path d="M102.54 226.91h5.7v5.7h-5.7z"/><path d="M104.52 227h5.7v5.7h-5.7z"/><path d="M106.5 227.11h5.7v5.7h-5.7z"/><path d="M108.48 227.24h5.7v5.7h-5.7z"/><path d="M110.46 227.39h5.7v5.7h-5.7z"/><path d="M112.44 227.55h5.7v5.7h-5.7z"/><path d="M114.42 227.75h5.7v5.7h-5.7z"/><path d="M116.4 227.97h5.7v5.7h-5.7z"/><path d="M118.38 228.21h5.7v5.7h-5.7z"/><path d="M120.36 228.48h5.7v5.7h-5.7z"/><path d="M122.34 228.77h5.7v5.7h-5.7z"/><path d="M124.32 229.1h5.7v5.7h-5.7z"/><path d="M126.3 229.44h5.7v5.7h-5.7z"/><path d="M128.28 229.82h5.7v5.7h-5.7z"/><path d="M130.26 230.22h5.7v5.7h-5.7z"/><path d="M132.24 230.64h5.7v5.7h-5.7z"/><path d="M134.22 231.1h5.7v5.7h-5.7z"/><path d="M136.2 231.59h5.7v5.7h-5.7z"/><path d="M138.18 232.1h5.7v5.7h-5.7z"/><path d="M140.16 232.65h5.7v5.7h-5.7z"/><path d="M142.14 233.22h5.7v5.7h-5.7z"/><path d="M144.12 233.82h5.7v5.7h-5.7z"/><path d="M146.1 234.46h5.7v5.7h-5.7z"/><path d="M148.08 235.13h5.7v5.7h-5.7z"/><path d="M150.06 235.84h5.7v5.7h-5.7z"/><path d="M152.04 236.58h5.7v5.7h-5.7z"/><path d="M154.02 237.35h5.7v5.7h-5.7z"/><path d="M156 238.16h5.7v5.7h-5.7z"/><path d="M157.98 239.01h5.7v5.7h-5.7z"/><path d="M159.96 239.9h5.7v5.7h-5.7z"/><path d="M161.94 240.83h5.7v5.7h-5.7z"/><path d="M163.92 241.8h5.7v5.7h-5.7z"/><path d="M165.9 242.82h5.7v5.7h-5.7z"/><path d="M167.88 243.88h5.7v5.7h-5.7z"/><path d="M169.86 244.98h5.7v5.7h-5.7z"/><path d="M171.84 246.13h5.7v5.7h-5.7z"/><path d="M173.82 247.33h5.7v5.7h-5.7z"/><path d="M175.8 248.56h5.7v5.7h-5.7z"/><path d="M177.78 249.85h5.7v5.7h-5.7z"/><path d="M179.76 251.18h5.7v5.7h-5.7z"/><path d="M181.74 252.56h5.7v5.7h-5.7z"/><path d="M183.72 253.99h5.7v5.7h-5.7z"/><path d="M185.7 255.45h5.7v5.7h-5.7z"/><path d="M187.68 256.96h5.7v5.7h-5.7z"/><path d="M189.66 258.5h5.7v5.7h-5.7z"/><path d="M191.64 260.08h5.7v5.7h-5.7z"/><path d="M193.62 261.7h5.7v5.7h-5.7z"/><path d="M195.6 263.36h5.7v5.7h-5.7z"/><path d="M197.58 265.05h5.7v5.7h-5.7z"/><path d="M199.56 266.76h5.7v5.7h-5.7z"/><path d="M201.54 268.48h5.7v5.7h-5.7z"/><path d="M203.52 270.22h5.7v5.7h-5.7z"/><path d="M205.5 271.98h5.7v5.7h-5.7z"/><path d="M207.48 273.75h5.7v5.7h-5.7z"/><path d="M209.46 275.54h5.7v5.7h-5.7z"/><path d="M211.44 277.34h5.7v5.7h-5.7z"/><path d="M213.42 279.16h5.7v5.7h-5.7z"/><path d="M215.4 280.99h5.7v5.7h-5.7z"/><path d="M217.38 282.83h5.7v5.7h-5.7z"/><path d="M219.36 284.66h5.7v5.7h-5.7z"/><path d="M221.34 286.48h5.7v5.7h-5.7z"/><path d="M223.32 288.3h5.7v5.7h-5.7z"/><path d="M225.3 290.12h5.7v5.7h-5.7z"/><path d="M227.28 291.93h5.7v5.7h-5.7z"/><path d="M229.26 293.74h5.7v5.7h-5.7z"/><path d="M231.24 295.54h5.7v5.7h-5.7z"/><path d="M233.22 297.33h5.7v5.7h-5.7z"/><path d="M235.2 299.12h5.7v5.7h-5.7z"/><path d="M237.18 300.9h5.7v5.7h-5.7z"/><path d="M239.16 302.69h5.7v5.7h-5.7z"/><path d="M241.14 304.49h5.7v5.7h-5.7z"/><path d="M243.12 306.3h5.7v5.7h-5.7z"/><path d="M245.1 308.13h5.7v5.7h-5.7z"/><path d="M247.08 309.96h5.7v5.7h-5.7z"/><path d="M249.06 311.81h5.7v5.7h-5.7z"/><path d="M251.04 313.68h5.7v5.7h-5.7z"/><path d="M253.02 315.56h5.7v5.7h-5.7z"/><path d="M255 317.47h5.7v5.7h-5.7z"/><path d="M256.98 319.41h5.7v5.7h-5.7z"/><path d="M258.96 321.39h5.7v5.7h-5.7z"/><path d="M260.94 323.41h5.7v5.7h-5.7z"/><path d="M262.92 325.48h5.7v5.7h-5.7z"/><path d="M264.9 327.58h5.7v5.7h-5.7z"/><path d="M266.88 329.73h5.7v5.7h-5.7z"/><path d="M268.86 331.93h5.7v5.7h-5.7z"/><path d="M270.84 334.18h5.7v5.7h-5.7z"/><path d="M272.82 336.49h5.7v5.7h-5.7z"/><path d="M274.8 338.85h5.7v5.7h-5.7z"/><path d="M276.78 341.26h5.7v5.7h-5.7z"/><path d="M278.76 343.73h5.7v5.7h-5.7z"/><path d="M280.74 346.26h5.7v5.7h-5.7z"/><path d="M282.72 348.85h5.7v5.7h-5.7z"/><path d="M284.7 351.49h5.7v5.7h-5.7z"/><path d="M286.68 354.2h5.7v5.7h-5.7z"/><path d="M288.66 356.97h5.7v5.7h-5.7z"/><path d="M290.64 359.81h5.7v5.7h-5.7z"/><path d="M292.62 362.71h5.7v5.7h-5.7z"/><path d="M294.6 365.67h5.7v5.7h-5.7z"/><path d="M296.58 368.7h5.7v5.7h-5.7z"/><path d="M298.56 371.8h5.7v5.7h-5.7z"/><path d="M300.54 374.97h5.7v5.7h-5.7z"/><path d="M302.52 378.22h5.7v5.7h-5.7z"/><path d="M304.5 381.56h5.7v5.7h-5.7z"/><path d="M306.48 384.98h5.7v5.7h-5.7z"/><path d="M308.46 388.5h5.7v5.7h-5.7z"/><path d="M310.44 392.11h5.7v5.7h-5.7z"/><path d="M312.42 395.83h5.7v5.7h-5.7z"/><path d="M314.4 399.66h5.7v5.7h-5.7z"/><path d="M316.38 403.62h5.7v5.7h-5.7z"/><path d="M318.36 407.73h5.7v5.7h-5.7z"/><path d="M320.34 412h5.7v5.7h-5.7z"/><path d="M322.32 416.48h5.7v5.7h-5.7z"/><path d="M324.3 421.18h5.7v5.7h-5.7z"/><path d="M326.28 426.17h5.7v5.7h-5.7z"/><path d="M328.26 431.51h5.7v5.7h-5.7z"/><path d="M330.24 437.29h5.7v5.7h-5.7z"/><path d="M332.22 443.66h5.7v5.7h-5.7z"/><path d="M334.2 450.9h5.7v5.7h-5.7z"/><path d="M336.18 459.53h5.7v5.7h-5.7z"/><path d="M338.16 471.02h5.7v5.7h-5.7z"/><path d="M340.14 494.65h5.7v5.7h-5.7z"/><path d="M342.12 494.65h5.7v5.7h-5.7z"/><path d="M344.1 494.65h5.7v5.7h-5.7z"/><path d="M346.08 494.65h5.7v5.7h-5.7z"/><path d="M348.06 494.65h5.7v5.7h-5.7z"/><path d="M350.04 494.65h5.7v5.7h-5.7z"/><path d="M352.02 494.65h5.7v5.7h-5.7z"/><path d="M354 494.65h5.7v5.7h-5.7z"/><path d="M355.98 494.65h5.7v5.7h-5.7z"/><path d="M357.96 494.65h5.7v5.7h-5.7z"/><path d="M359.94 494.65h5.7v5.7h-5.7z"/><path d="M361.92 494.65h5.7v5.7h-5.7z"/><path d="M363.9 494.65h5.7v5.7h-5.7z"/><path d="M365.88 494.65h5.7v5.7h-5.7z"/><path d="M367.86 494.65h5.7v5.7h-5.7z"/><path d="M369.84 494.65h5.7v5.7h-5.7z"/><path d="M371.82 494.65h5.7v5.7h-5.7z"/><path d="M373.8 494.65h5.7v5.7h-5.7z"/><path d="M375.78 494.65h5.7v5.7h-5.7z"/><path d="M377.76 494.65h5.7v5.7h-5.7z"/><path d="M379.74 494.65h5.7v5.7h-5.7z"/><path d="M381.72 494.65h5.7v5.7h-5.7z"/><path d="M383.7 494.65h5.7v5.7h-5.7z"/><path d="M385.68 494.65h5.7v5.7h-5.7z"/><path d="M387.66 494.65h5.7v5.7h-5.7z"/><path d="M389.64 494.65h5.7v5.7h-5.7z"/><path d="M391.62 494.65h5.7v5.7h-5.7z"/><path d="M393.6 494.65h5.7v5.7h-5.7z"/><path d="M395.58 494.65h5.7v5.7h-5.7z"/><path d="M397.56 494.65h5.7v5.7h-5.7z"/><path d="M399.54 494.65h5.7v5.7h-5.7z"/><path d="M401.52 494.65h5.7v5.7h-5.7z"/><path d="M403.5 494.65h5.7v5.7h-5.7z"/><path d="M405.48 494.65h5.7v5.7h-5.7z"/><path d="M407.46 494.65h5.7v5.7h-5.7z"/><path d="M409.44 494.65h5.7v5.7h-5.7z"/><path d="M411.42 494.65h5.7v5.7h-5.7z"/><path d="M413.4 494.65h5.7v5.7h-5.7z"/><path d="M415.38 494.65h5.7v5.7h-5.7z"/><path d="M417.36 494.65h5.7v5.7h-5.7z"/><path d="M419.34 494.65h5.7v5.7h-5.7z"/><path d="M421.32 494.65h5.7v5.7h-5.7z"/><path d="M423.3 494.65h5.7v5.7h-5.7z"/><path d="M425.28 494.65h5.7v5.7h-5.7z"/><path d="M427.26 494.65h5.7v5.7h-5.7z"/><path d="M429.24 494.65h5.7v5.7h-5.7z"/></g>
<polyline points="49.95,229.5 51.93,229.5 53.91,229.5 55.89,229.5 57.87,229.5 59.85,229.5 61.83,229.5 63.81,229.5 65.79,229.5 67.77,229.5 69.75,229.5 71.73,229.5 73.71,229.5 75.69,229.5 77.67,229.5 79.65,229.5 81.63,229.5 83.61,229.5 85.59,229.5 87.57,229.5 89.55,229.5 91.53,229.5 93.51,229.5 95.49,229.5 97.47,229.5 99.45,229.5 101.43,229.5 103.41,229.5 105.39,229.5 107.37,229.5 109.35,229.5 111.33,229.5 113.31,229.51 115.29,229.51 117.27,229.51 119.25,229.52 121.23,229.52 123.21,229.53 125.19,229.54 127.17,229.55 129.15,229.56 131.13,229.58 133.11,229.6 135.09,229.62 137.07,229.65 139.05,229.68 141.03,229.71 143.01,229.75 144.99,229.8 146.97,229.85 148.95,229.92 150.93,229.98 152.91,230.06 154.89,230.14 156.87,230.24 158.85,230.35 160.83,230.46 162.81,230.59 164.79,230.73 166.77,230.89 168.75,231.06 170.73,231.25 172.71,231.45 174.69,231.67 176.67,231.9 178.65,232.16 180.63,232.43 182.61,232.73 184.59,233.04 186.57,233.38 188.55,233.74 190.53,234.12 192.51,234.53 194.49,234.96 196.47,235.41 198.45,235.89 200.43,236.4 202.41,236.93 204.39,237.49 206.37,238.08 208.35,238.7 210.33,239.35 212.31,240.04 214.29,240.75 216.27,241.5 218.25,242.29 220.23,243.12 222.21,243.98 224.19,244.89 226.17,245.84 228.15,246.84 230.13,247.89 232.11,248.98 234.09,250.13 236.07,251.34 238.05,252.6 240.03,253.92 242.01,255.3 243.99,256.74 245.97,258.24 247.95,259.81 249.93,261.45 251.91,263.15 253.89,264.92 255.87,266.75 257.85,268.65 259.83,270.62 261.81,272.65 263.79,274.76 265.77,276.92 267.75,279.15 269.73,281.45 271.71,283.81 273.69,286.23 275.67,288.72 277.65,291.26 279.63,293.88 281.61,296.56 283.59,299.31 285.57,302.12 287.55,305.01 289.53,307.96 291.51,310.99 293.49,314.1 295.47,317.3 297.45,320.59 299.43,323.98 301.41,327.48 303.39,331.1 305.37,334.85 307.35,338.74 309.33,342.77 311.31,346.98 313.29,351.36 315.27,355.96 317.25,360.77 319.23,365.84 321.21,371.17 323.19,376.8 325.17,382.77 327.15,389.12 329.13,395.93 331.11,403.3 333.09,411.38 335.07,420.39 337.05,430.72 339.03,443.13 341.01,459.61 342.99,497.5 344.97,497.5 346.95,497.5 348.93,497.5 350.91,497.5 352.89,497.5 354.87,497.5 356.85,497.5 358.83,497.5 360.81,497.5 362.79,497.5 364.77,497.5 366.75,497.5 368.73,497.5 370.71,497.5 372.69,497.5 374.67,497.5 376.65,497.5 378.63,497.5 380.61,497.5 382.59,497.5 384.57,497.5 386.55,497.5 388.53,497.5 390.51,497.5 392.49,497.5 394.47,497.5 396.45,497.5 398.43,497.5 400.41,497.5 402.39,497.5 404.37,497.5 406.35,497.5 408.33,497.5 410.31,497.5 412.29,497.5 414.27,497.5 416.25,497.5 418.23,497.5 420.21,497.5 422.19,497.5 424.17,497.5 426.15,497.5 428.13,497.5 430.11,497.5 432.09,497.5" fill="none" stroke="#0f0" stroke-width="0.8"/>
<g fill="#0f0" stroke="#000" stroke-width="0.65"><circle cx="49.95" cy="229.5" r="3.3"/><circle cx="51.93" cy="229.5" r="3.3"/><circle cx="53.91" cy="229.5" r="3.3"/><circle cx="55.89" cy="229.5" r="3.3"/><circle cx="57.87" cy="229.5" r="3.3"/><circle cx="59.85" cy="229.5" r="3.3"/><circle cx="61.83" cy="229.5" r="3.3"/><circle cx="63.81" cy="229.5" r="3.3"/><circle cx="65.79" cy="229.5" r="3.3"/><circle cx="67.77" cy="229.5" r="3.3"/><circle cx="69.75" cy="229.5" r="3.3"/><circle cx="71.73" cy="229.5" r="3.3"/><circle cx="73.71" cy="229.5" r="3.3"/><circle cx="75.69" cy="229.5" r="3.3"/><circle cx="77.67" cy="229.5" r="3.3"/><circle cx="79.65" cy="229.5" r="3.3"/><circle cx="81.63" cy="229.5" r="3.3"/><circle cx="83.61" cy="229.5" r="3.3"/><circle cx="85.59" cy="229.5" r="3.3"/><circle cx="87.57" cy="229.5" r="3.3"/><circle cx="89.55" cy="229.5" r="3.3"/><circle cx="91.53" cy="229.5" r="3.3"/><circle cx="93.51" cy="229.5" r="3.3"/><circle cx="95.49" cy="229.5" r="3.3"/><circle cx="97.47" cy="229.5" r="3.3"/><circle cx="99.45" cy="229.5" r="3.3"/><circle cx="101.43" cy="229.5" r="3.3"/><circle cx="103.41" cy="229.5" r="3.3"/><circle cx="105.39" cy="229.5" r="3.3"/><circle cx="107.37" cy="229.5" r="3.3"/><circle cx="109.35" cy="229.5" r="3.3"/><circle cx="111.33" cy="229.5" r="3.3"/><circle cx="113.31" cy="229.51" r="3.3"/><circle cx="115.29" cy="229.51" r="3.3"/><circle cx="117.27" cy="229.51" r="3.3"/><circle cx="119.25" cy="229.52" r="3.3"/><circle cx="121.23" cy="229.52" r="3.3"/><circle cx="123.21" cy="229.53" r="3.3"/><circle cx="125.19" cy="229.54" r="3.3"/><circle cx="127.17" cy="229.55" r="3.3"/><circle cx="129.15" cy="229.56" r="3.3"/><circle cx="131.13" cy="229.58" r="3.3"/><circle cx="133.11" cy="229.6" r="3.3"/><circle cx="135.09" cy="229.62" r="3.3"/><circle cx="137.07" cy="229.65" r="3.3"/><circle cx="139.05" cy="229.68" r="3.3"/><circle cx="141.03" cy="229.71" r="3.3"/><circle cx="143.01" cy="229.75" r="3.3"/><circle cx="144.99" cy="229.8" r="3.3"/><circle cx="146.97" cy="229.85" r="3.3"/><circle cx="148.95" cy="229.92" r="3.3"/><circle cx="150.93" cy="229.98" r="3.3"/><circle cx="152.91" cy="230.06" r="3.3"/><circle cx="154.89" cy="230.14" r="3.3"/><circle cx="156.87" cy="230.24" r="3.3"/><circle cx="158.85" cy="230.35" r="3.3"/><circle cx="160.83" cy="230.46" r="3.3"/><circle cx="162.81" cy="230.59" r="3.3"/><circle cx="164.79" cy="230.73" r="3.3"/><circle cx="166.77" cy="230.89" r="3.3"/><circle cx="168.75" cy="231.06" r="3.3"/><circle cx="170.73" cy="231.25" r="3.3"/><circle cx="172.71" cy="231.45" r="3.3"/><circle cx="174.69" cy="231.67" r="3.3"/><circle cx="176.67" cy="231.9" r="3.3"/><circle cx="178.65" cy="232.16" r="3.3"/><circle cx="180.63" cy="232.43" r="3.3"/><circle cx="182.61" cy="232.73" r="3.3"/><circle cx="184.59" cy="233.04" r="3.3"/><circle cx="186.57" cy="233.38" r="3.3"/><circle cx="188.55" cy="233.74" r="3.3"/><circle cx="190.53" cy="234.12" r="3.3"/><circle cx="192.51" cy="234.53" r="3.3"/><circle cx="194.49" cy="234.96" r="3.3"/><circle cx="196.47" cy="235.41" r="3.3"/><circle cx="198.45" cy="235.89" r="3.3"/><circle cx="200.43" cy="236.4" r="3.3"/><circle cx="202.41" cy="236.93" r="3.3"/><circle cx="204.39" cy="237.49" r="3.3"/><circle cx="206.37" cy="238.08" r="3.3"/><circle cx="208.35" cy="238.7" r="3.3"/><circle cx="210.33" cy="239.35" r="3.3"/><circle cx="212.31" cy="240.04" r="3.3"/><circle cx="214.29" cy="240.75" r="3.3"/><circle cx="216.27" cy="241.5" r="3.3"/><circle cx="218.25" cy="242.29" r="3.3"/><circle cx="220.23" cy="243.12" r="3.3"/><circle cx="222.21" cy="243.98" r="3.3"/><circle cx="224.19" cy="244.89" r="3.3"/><circle cx="226.17" cy="245.84" r="3.3"/><circle cx="228.15" cy="246.84" r="3.3"/><circle cx="230.13" cy="247.89" r="3.3"/><circle cx="232.11" cy="248.98" r="3.3"/><circle cx="234.09" cy="250.13" r="3.3"/><circle cx="236.07" cy="251.34" r="3.3"/><circle cx="238.05" cy="252.6" r="3.3"/><circle cx="240.03" cy="253.92" r="3.3"/><circle cx="242.01" cy="255.3" r="3.3"/><circle cx="243.99" cy="256.74" r="3.3"/><circle cx="245.97" cy="258.24" r="3.3"/><circle cx="247.95" cy="259.81" r="3.3"/><circle cx="249.93" cy="261.45" r="3.3"/><circle cx="251.91" cy="263.15" r="3.3"/><circle cx="253.89" cy="264.92" r="3.3"/><circle cx="255.87" cy="266.75" r="3.3"/><circle cx="257.85" cy="268.65" r="3.3"/><circle cx="259.83" cy="270.62" r="3.3"/><circle cx="261.81" cy="272.65" r="3.3"/><circle cx="263.79" cy="274.76" r="3.3"/><circle cx="265.77" cy="276.92" r="3.3"/><circle cx="267.75" cy="279.15" r="3.3"/><circle cx="269.73" cy="281.45" r="3.3"/><circle cx="271.71" cy="283.81" r="3.3"/><circle cx="273.69" cy="286.23" r="3.3"/><circle cx="275.67" cy="288.72" r="3.3"/><circle cx="277.65" cy="291.26" r="3.3"/><circle cx="279.63" cy="293.88" r="3.3"/><circle cx="281.61" cy="296.56" r="3.3"/><circle cx="283.59" cy="299.31" r="3.3"/><circle cx="285.57" cy="302.12" r="3.3"/><circle cx="287.55" cy="305.01" r="3.3"/><circle cx="289.53" cy="307.96" r="3.3"/><circle cx="291.51" cy="310.99" r="3.3"/><circle cx="293.49" cy="314.1" r="3.3"/><circle cx="295.47" cy="317.3" r="3.3"/><circle cx="297.45" cy="320.59" r="3.3"/><circle cx="299.43" cy="323.98" r="3.3"/><circle cx="301.41" cy="327.48" r="3.3"/><circle cx="303.39" cy="331.1" r="3.3"/><circle cx="305.37" cy="334.85" r="3.3"/><circle cx="307.35" cy="338.74" r="3.3"/><circle cx="309.33" cy="342.77" r="3.3"/><circle cx="311.31" cy="346.98" r="3.3"/><circle cx="313.29" cy="351.36" r="3.3"/><circle cx="315.27" cy="355.96" r="3.3"/><circle cx="317.25" cy="360.77" r="3.3"/><circle cx="319.23" cy="365.84" r="3.3"/><circle cx="321.21" cy="371.17" r="3.3"/><circle cx="323.19" cy="376.8" r="3.3"/><circle cx="325.17" cy="382.77" r="3.3"/><circle cx="327.15" cy="389.12" r="3.3"/><circle cx="329.13" cy="395.93" r="3.3"/><circle cx="331.11" cy="403.3" r="3.3"/><circle cx="333.09" cy="411.38" r="3.3"/><circle cx="335.07" cy="420.39" r="3.3"/><circle cx="337.05" cy="430.72" r="3.3"/><circle cx="339.03" cy="443.13" r="3.3"/><circle cx="341.01" cy="459.61" r="3.3"/><circle cx="342.99" cy="497.5" r="3.3"/><circle cx="344.97" cy="497.5" r="3.3"/><circle cx="346.95" cy="497.5" r="3.3"/><circle cx="348.93" cy="497.5" r="3.3"/><circle cx="350.91" cy="497.5" r="3.3"/><circle cx="352.89" cy="497.5" r="3.3"/><circle cx="354.87" cy="497.5" r="3.3"/><circle cx="356.85" cy="497.5" r="3.3"/><circle cx="358.83" cy="497.5" r="3.3"/><circle cx="360.81" cy="497.5" r="3.3"/><circle cx="362.79" cy="497.5" r="3.3"/><circle cx="364.77" cy="497.5" r="3.3"/><circle cx="366.75" cy="497.5" r="3.3"/><circle cx="368.73" cy="497.5" r="3.3"/><circle cx="370.71" cy="497.5" r="3.3"/><circle cx="372.69" cy="497.5" r="3.3"/><circle cx="374.67" cy="497.5" r="3.3"/><circle cx="376.65" cy="497.5" r="3.3"/><circle cx="378.63" cy="497.5" r="3.3"/><circle cx="380.61" cy="497.5" r="3.3"/><circle cx="382.59" cy="497.5" r="3.3"/><circle cx="384.57" cy="497.5" r="3.3"/><circle cx="386.55" cy="497.5" r="3.3"/><circle cx="388.53" cy="497.5" r="3.3"/><circle cx="390.51" cy="497.5" r="3.3"/><circle cx="392.49" cy="497.5" r="3.3"/><circle cx="394.47" cy="497.5" r="3.3"/><circle cx="396.45" cy="497.5" r="3.3"/><circle cx="398.43" cy="497.5" r="3.3"/><circle cx="400.41" cy="497.5" r="3.3"/><circle cx="402.39" cy="497.5" r="3.3"/><circle cx="404.37" cy="497.5" r="3.3"/><circle cx="406.35" cy="497.5" r="3.3"/><circle cx="408.33" cy="497.5" r="3.3"/><circle cx="410.31" cy="497.5" r="3.3"/><circle cx="412.29" cy="497.5" r="3.3"/><circle cx="414.27" cy="497.5" r="3.3"/><circle cx="416.25" cy="497.5" r="3.3"/><circle cx="418.23" cy="497.5" r="3.3"/><circle cx="420.21" cy="497.5" r="3.3"/><circle cx="422.19" cy="497.5" r="3.3"/><circle cx="424.17" cy="497.5" r="3.3"/><circle cx="426.15" cy="497.5" r="3.3"/><circle cx="428.13" cy="497.5" r="3.3"/><circle cx="430.11" cy="497.5" r="3.3"/><circle cx="432.09" cy="497.5" r="3.3"/></g>
<polyline points="49.95,229.5 51.93,229.5 53.91,229.5 55.89,229.5 57.87,229.5 59.85,229.5 61.83,229.5 63.81,229.5 65.79,229.5 67.77,229.5 69.75,229.5 71.73,229.5 73.71,229.5 75.69,229.5 77.67,229.5 79.65,229.5 81.63,229.5 83.61,229.5 85.59,229.5 87.57,229.5 89.55,229.5 91.53,229.5 93.51,229.5 95.49,229.5 97.47,229.5 99.45,229.5 101.43,229.5 103.41,229.5 105.39,229.56 107.37,229.66 109.35,229.81 111.33,229.99 113.31,230.2 115.29,230.42 117.27,230.67 119.25,231.02 121.23,231.44 123.21,231.9 125.19,232.43 127.17,233.04 129.15,233.74 131.13,234.59 133.11,235.56 135.09,236.6 137.07,237.77 139.05,239.06 141.03,240.47 143.01,242.09 144.99,243.96 146.97,245.95 148.95,248.32 150.93,251.18 152.91,254.17 154.89,257.66 156.87,261.53 158.85,266.14 160.83,271.5 162.81,277.35 164.79,284.33 166.77,293.8 168.75,312.5 170.73,497.5 172.71,497.5 174.69,497.5 176.67,497.5 178.65,497.5 180.63,497.5 182.61,497.5 184.59,497.5 186.57,497.5 188.55,497.5 190.53,497.5 192.51,497.5 194.49,497.5 196.47,497.5 198.45,497.5 200.43,497.5 202.41,497.5 204.39,497.5 206.37,497.5 208.35,497.5 210.33,497.5 212.31,497.5 214.29,497.5 216.27,497.5 218.25,497.5 220.23,497.5 222.21,497.5 224.19,497.5 226.17,497.5 228.15,497.5 230.13,497.5 232.11,497.5 234.09,497.5 236.07,497.5 238.05,497.5 240.03,497.5 242.01,497.5 243.99,497.5 245.97,497.5 247.95,497.5 249.93,497.5 251.91,497.5 253.89,497.5 255.87,497.5 257.85,497.5 259.83,497.5 261.81,497.5 263.79,497.5 265.77,497.5 267.75,497.5 269.73,497.5 271.71,497.5 273.69,497.5 275.67,497.5 277.65,497.5 279.63,497.5 281.61,497.5 283.59,497.5 285.57,497.5 287.55,497.5 289.53,497.5 291.51,497.5 293.49,497.5 295.47,497.5 297.45,497.5 299.43,497.5 301.41,497.5 303.39,497.5 305.37,497.5 307.35,497.5 309.33,497.5 311.31,497.5 313.29,497.5 315.27,497.5 317.25,497.5 319.23,497.5 321.21,497.5 323.19,497.5 325.17,497.5 327.15,497.5 329.13,497.5 331.11,497.5 333.09,497.5 335.07,497.5 337.05,497.5 339.03,497.5 341.01,497.5 342.99,497.5 344.97,497.5 346.95,497.5 348.93,497.5 350.91,497.5 352.89,497.5 354.87,497.5 356.85,497.5 358.83,497.5 360.81,497.5 362.79,497.5 364.77,497.5 366.75,497.5 368.73,497.5 370.71,497.5 372.69,497.5 374.67,497.5 376.65,497.5 378.63,497.5 380.61,497.5 382.59,497.5 384.57,497.5 386.55,497.5 388.53,497.5 390.51,497.5 392.49,497.5 394.47,497.5 396.45,497.5 398.43,497.5 400.41,497.5 402.39,497.5 404.37,497.5 406.35,497.5 408.33,497.5 410.31,497.5 412.29,497.5 414.27,497.5 416.25,497.5 418.23,497.5 420.21,497.5 422.19,497.5 424.17,497.5 426.15,497.5 428.13,497.5 430.11,497.5 432.09,497.5" fill="none" stroke="#f0f" stroke-width="1.1" stroke-dasharray="2.5 1.75" stroke-opacity="0.85"/>
<g fill="#f0f" stroke="#000" stroke-width="0.65"><path d="M47.1 226.65h5.7v5.7h-5.7z"/><path d="M49.08 226.65h5.7v5.7h-5.7z"/><path d="M51.06 226.65h5.7v5.7h-5.7z"/><path d="M53.04 226.65h5.7v5.7h-5.7z"/><path d="M55.02 226.65h5.7v5.7h-5.7z"/><path d="M57 226.65h5.7v5.7h-5.7z"/><path d="M58.98 226.65h5.7v5.7h-5.7z"/><path d="M60.96 226.65h5.7v5.7h-5.7z"/><path d="M62.94 226.65h5.7v5.7h-5.7z"/><path d="M64.92 226.65h5.7v5.7h-5.7z"/><path d="M66.9 226.65h5.7v5.7h-5.7z"/><path d="M68.88 226.65h5.7v5.7h-5.7z"/><path d="M70.86 226.65h5.7v5.7h-5.7z"/><path d="M72.84 226.65h5.7v5.7h-5.7z"/><path d="M74.82 226.65h5.7v5.7h-5.7z"/><path d="M76.8 226.65h5.7v5.7h-5.7z"/><path d="M78.78 226.65h5.7v5.7h-5.7z"/><path d="M80.76 226.65h5.7v5.7h-5.7z"/><path d="M82.74 226.65h5.7v5.7h-5.7z"/><path d="M84.72 226.65h5.7v5.7h-5.7z"/><path d="M86.7 226.65h5.7v5.7h-5.7z"/><path d="M88.68 226.65h5.7v5.7h-5.7z"/><path d="M90.66 226.65h5.7v5.7h-5.7z"/><path d="M92.64 226.65h5.7v5.7h-5.7z"/><path d="M94.62 226.65h5.7v5.7h-5.7z"/><path d="M96.6 226.65h5.7v5.7h-5.7z"/><path d="M98.58 226.65h5.7v5.7h-5.7z"/><path d="M100.56 226.65h5.7v5.7h-5.7z"/><path d="M102.54 226.71h5.7v5.7h-5.7z"/><path d="M104.52 226.81h5.7v5.7h-5.7z"/><path d="M106.5 226.96h5.7v5.7h-5.7z"/><path d="M108.48 227.14h5.7v5.7h-5.7z"/><path d="M110.46 227.35h5.7v5.7h-5.7z"/><path d="M112.44 227.57h5.7v5.7h-5.7z"/><path d="M114.42 227.82h5.7v5.7h-5.7z"/><path d="M116.4 228.17h5.7v5.7h-5.7z"/><path d="M118.38 228.59h5.7v5.7h-5.7z"/><path d="M120.36 229.05h5.7v5.7h-5.7z"/><path d="M122.34 229.58h5.7v5.7h-5.7z"/><path d="M124.32 230.19h5.7v5.7h-5.7z"/><path d="M126.3 230.89h5.7v5.7h-5.7z"/><path d="M128.28 231.74h5.7v5.7h-5.7z"/><path d="M130.26 232.71h5.7v5.7h-5.7z"/><path d="M132.24 233.75h5.7v5.7h-5.7z"/><path d="M134.22 234.92h5.7v5.7h-5.7z"/><path d="M136.2 236.21h5.7v5.7h-5.7z"/><path d="M138.18 237.62h5.7v5.7h-5.7z"/><path d="M140.16 239.24h5.7v5.7h-5.7z"/><path d="M142.14 241.11h5.7v5.7h-5.7z"/><path d="M144.12 243.1h5.7v5.7h-5.7z"/><path d="M146.1 245.47h5.7v5.7h-5.7z"/><path d="M148.08 248.33h5.7v5.7h-5.7z"/><path d="M150.06 251.32h5.7v5.7h-5.7z"/><path d="M152.04 254.81h5.7v5.7h-5.7z"/><path d="M154.02 258.68h5.7v5.7h-5.7z"/><path d="M156 263.29h5.7v5.7h-5.7z"/><path d="M157.98 268.65h5.7v5.7h-5.7z"/><path d="M159.96 274.5h5.7v5.7h-5.7z"/><path d="M161.94 281.48h5.7v5.7h-5.7z"/><path d="M163.92 290.95h5.7v5.7h-5.7z"/><path d="M165.9 309.65h5.7v5.7h-5.7z"/><path d="M167.88 494.65h5.7v5.7h-5.7z"/><path d="M169.86 494.65h5.7v5.7h-5.7z"/><path d="M171.84 494.65h5.7v5.7h-5.7z"/><path d="M173.82 494.65h5.7v5.7h-5.7z"/><path d="M175.8 494.65h5.7v5.7h-5.7z"/><path d="M177.78 494.65h5.7v5.7h-5.7z"/><path d="M179.76 494.65h5.7v5.7h-5.7z"/><path d="M181.74 494.65h5.7v5.7h-5.7z"/><path d="M183.72 494.65h5.7v5.7h-5.7z"/><path d="M185.7 494.65h5.7v5.7h-5.7z"/><path d="M187.68 494.65h5.7v5.7h-5.7z"/><path d="M189.66 494.65h5.7v5.7h-5.7z"/><path d="M191.64 494.65h5.7v5.7h-5.7z"/><path d="M193.62 494.65h5.7v5.7h-5.7z"/><path d="M195.6 494.65h5.7v5.7h-5.7z"/><path d="M197.58 494.65h5.7v5.7h-5.7z"/><path d="M199.56 494.65h5.7v5.7h-5.7z"/><path d="M201.54 494.65h5.7v5.7h-5.7z"/><path d="M203.52 494.65h5.7v5.7h-5.7z"/><path d="M205.5 494.65h5.7v5.7h-5.7z"/><path d="M207.48 494.65h5.7v5.7h-5.7z"/><path d="M209.46 494.65h5.7v5.7h-5.7z"/><path d="M211.44 494.65h5.7v5.7h-5.7z"/><path d="M213.42 494.65h5.7v5.7h-5.7z"/><path d="M215.4 494.65h5.7v5.7h-5.7z"/><path d="M217.38 494.65h5.7v5.7h-5.7z"/><path d="M219.36 494.65h5.7v5.7h-5.7z"/><path d="M221.34 494.65h5.7v5.7h-5.7z"/><path d="M223.32 494.65h5.7v5.7h-5.7z"/><path d="M225.3 494.65h5.7v5.7h-5.7z"/><path d="M227.28 494.65h5.7v5.7h-5.7z"/><path d="M229.26 494.65h5.7v5.7h-5.7z"/><path d="M231.24 494.65h5.7v5.7h-5.7z"/><path d="M233.22 494.65h5.7v5.7h-5.7z"/><path d="M235.2 494.65h5.7v5.7h-5.7z"/><path d="M237.18 494.65h5.7v5.7h-5.7z"/><path d="M239.16 494.65h5.7v5.7h-5.7z"/><path d="M241.14 494.65h5.7v5.7h-5.7z"/><path d="M243.12 494.65h5.7v5.7h-5.7z"/><path d="M245.1 494.65h5.7v5.7h-5.7z"/><path d="M247.08 494.65h5.7v5.7h-5.7z"/><path d="M249.06 494.65h5.7v5.7h-5.7z"/><path d="M251.04 494.65h5.7v5.7h-5.7z"/><path d="M253.02 494.65h5.7v5.7h-5.7z"/><path d="M255 494.65h5.7v5.7h-5.7z"/><path d="M256.98 494.65h5.7v5.7h-5.7z"/><path d="M258.96 494.65h5.7v5.7h-5.7z"/><path d="M260.94 494.65h5.7v5.7h-5.7z"/><path d="M262.92 494.65h5.7v5.7h-5.7z"/><path d="M264.9 494.65h5.7v5.7h-5.7z"/><path d="M266.88 494.65h5.7v5.7h-5.7z"/><path d="M268.86 494.65h5.7v5.7h-5.7z"/><path d="M270.84 494.65h5.7v5.7h-5.7z"/><path d="M272.82 494.65h5.7v5.7h-5.7z"/><path d="M274.8 494.65h5.7v5.7h-5.7z"/><path d="M276.78 494.65h5.7v5.7h-5.7z"/><path d="M278.76 494.65h5.7v5.7h-5.7z"/><path d="M280.74 494.65h5.7v5.7h-5.7z"/><path d="M282.72 494.65h5.7v5.7h-5.7z"/><path d="M284.7 494.65h5.7v5.7h-5.7z"/><path d="M286.68 494.65h5.7v5.7h-5.7z"/><path d="M288.66 494.65h5.7v5.7h-5.7z"/><path d="M290.64 494.65h5.7v5.7h-5.7z"/><path d="M292.62 494.65h5.7v5.7h-5.7z"/><path d="M294.6 494.65h5.7v5.7h-5.7z"/><path d="M296.58 494.65h5.7v5.7h-5.7z"/><path d="M298.56 494.65h5.7v5.7h-5.7z"/><path d="M300.54 494.65h5.7v5.7h-5.7z"/><path d="M302.52 494.65h5.7v5.7h-5.7z"/><path d="M304.5 494.65h5.7v5.7h-5.7z"/><path d="M306.48 494.65h5.7v5.7h-5.7z"/><path d="M308.46 494.65h5.7v5.7h-5.7z"/><path d="M310.44 494.65h5.7v5.7h-5.7z"/><path d="M312.42 494.65h5.7v5.7h-5.7z"/><path d="M314.4 494.65h5.7v5.7h-5.7z"/><path d="M316.38 494.65h5.7v5.7h-5.7z"/><path d="M318.36 494.65h5.7v5.7h-5.7z"/><path d="M320.34 494.65h5.7v5.7h-5.7z"/><path d="M322.32 494.65h5.7v5.7h-5.7z"/><path d="M324.3 494.65h5.7v5.7h-5.7z"/><path d="M326.28 494.65h5.7v5.7h-5.7z"/><path d="M328.26 494.65h5.7v5.7h-5.7z"/><path d="M330.24 494.65h5.7v5.7h-5.7z"/><path d="M332.22 494.65h5.7v5.7h-5.7z"/><path d="M334.2 494.65h5.7v5.7h-5.7z"/><path d="M336.18 494.65h5.7v5.7h-5.7z"/><path d="M338.16 494.65h5.7v5.7h-5.7z"/><path d="M340.14 494.65h5.7v5.7h-5.7z"/><path d="M342.12 494.65h5.7v5.7h-5.7z"/><path d="M344.1 494.65h5.7v5.7h-5.7z"/><path d="M346.08 494.65h5.7v5.7h-5.7z"/><path d="M348.06 494.65h5.7v5.7h-5.7z"/><path d="M350.04 494.65h5.7v5.7h-5.7z"/><path d="M352.02 494.65h5.7v5.7h-5.7z"/><path d="M354 494.65h5.7v5.7h-5.7z"/><path d="M355.98 494.65h5.7v5.7h-5.7z"/><path d="M357.96 494.65h5.7v5.7h-5.7z"/><path d="M359.94 494.65h5.7v5.7h-5.7z"/><path d="M361.92 494.65h5.7v5.7h-5.7z"/><path d="M363.9 494.65h5.7v5.7h-5.7z"/><path d="M365.88 494.65h5.7v5.7h-5.7z"/><path d="M367.86 494.65h5.7v5.7h-5.7z"/><path d="M369.84 494.65h5.7v5.7h-5.7z"/><path d="M371.82 494.65h5.7v5.7h-5.7z"/><path d="M373.8 494.65h5.7v5.7h-5.7z"/><path d="M375.78 494.65h5.7v5.7h-5.7z"/><path d="M377.76 494.65h5.7v5.7h-5.7z"/><path d="M379.74 494.65h5.7v5.7h-5.7z"/><path d="M381.72 494.65h5.7v5.7h-5.7z"/><path d="M383.7 494.65h5.7v5.7h-5.7z"/><path d="M385.68 494.65h5.7v5.7h-5.7z"/><path d="M387.66 494.65h5.7v5.7h-5.7z"/><path d="M389.64 494.65h5.7v5.7h-5.7z"/><path d="M391.62 494.65h5.7v5.7h-5.7z"/><path d="M393.6 494.65h5.7v5.7h-5.7z"/><path d="M395.58 494.65h5.7v5.7h-5.7z"/><path d="M397.56 494.65h5.7v5.7h-5.7z"/><path d="M399.54 494.65h5.7v5.7h-5.7z"/><path d="M401.52 494.65h5.7v5.7h-5.7z"/><path d="M403.5 494.65h5.7v5.7h-5.7z"/><path d="M405.48 494.65h5.7v5.7h-5.7z"/><path d="M407.46 494.65h5.7v5.7h-5.7z"/><path d="M409.44 494.65h5.7v5.7h-5.7z"/><path d="M411.42 494.65h5.7v5.7h-5.7z"/><path d="M413.4 494.65h5.7v5.7h-5.7z"/><path d="M415.38 494.65h5.7v5.7h-5.7z"/><path d="M417.36 494.65h5.7v5.7h-5.7z"/><path d="M419.34 494.65h5.7v5.7h-5.7z"/><path d="M421.32 494.65h5.7v5.7h-5.7z"/><path d="M423.3 494.65h5.7v5.7h-5.7z"/><path d="M425.28 494.65h5.7v5.7h-5.7z"/><path d="M427.26 494.65h5.7v5.7h-5.7z"/><path d="M429.24 494.65h5.7v5.7h-5.7z"/></g>
<polyline points="49.95,229.5 51.93,229.5 53.91,229.5 55.89,229.5 57.87,229.5 59.85,229.5 61.83,229.5 63.81,229.5 65.79,229.5 67.77,229.5 69.75,229.5 71.73,229.5 73.71,229.5 75.69,229.5 77.67,229.5 79.65,229.5 81.63,229.5 83.61,229.5 85.59,229.5 87.57,229.5 89.55,229.5 91.53,229.5 93.51,229.5 95.49,229.5 97.47,229.5 99.45,229.5 101.43,229.5 103.41,229.5 105.39,229.56 107.37,229.67 109.35,229.83 111.33,230.03 113.31,230.25 115.29,230.49 117.27,230.76 119.25,231.14 121.23,231.59 123.21,232.08 125.19,232.65 127.17,233.31 129.15,234.06 131.13,234.97 133.11,236.01 135.09,237.14 137.07,238.39 139.05,239.78 141.03,241.29 143.01,243.03 144.99,245.04 146.97,247.19 148.95,249.73 150.93,252.82 152.91,256.03 154.89,259.78 156.87,263.94 158.85,268.9 160.83,274.66 162.81,280.96 164.79,288.46 166.77,298.64 168.75,318.74 170.73,497.5 172.71,497.5 174.69,497.5 176.67,497.5 178.65,497.5 180.63,497.5 182.61,497.5 184.59,497.5 186.57,497.5 188.55,497.5 190.53,497.5 192.51,497.5 194.49,497.5 196.47,497.5 198.45,497.5 200.43,497.5 202.41,497.5 204.39,497.5 206.37,497.5 208.35,497.5 210.33,497.5 212.31,497.5 214.29,497.5 216.27,497.5 218.25,497.5 220.23,497.5 222.21,497.5 224.19,497.5 226.17,497.5 228.15,497.5 230.13,497.5 232.11,497.5 234.09,497.5 236.07,497.5 238.05,497.5 240.03,497.5 242.01,497.5 243.99,497.5 245.97,497.5 247.95,497.5 249.93,497.5 251.91,497.5 253.89,497.5 255.87,497.5 257.85,497.5 259.83,497.5 261.81,497.5 263.79,497.5 265.77,497.5 267.75,497.5 269.73,497.5 271.71,497.5 273.69,497.5 275.67,497.5 277.65,497.5 279.63,497.5 281.61,497.5 283.59,497.5 285.57,497.5 287.55,497.5 289.53,497.5 291.51,497.5 293.49,497.5 295.47,497.5 297.45,497.5 299.43,497.5 301.41,497.5 303.39,497.5 305.37,497.5 307.35,497.5 309.33,497.5 311.31,497.5 313.29,497.5 315.27,497.5 317.25,497.5 319.23,497.5 321.21,497.5 323.19,497.5 325.17,497.5 327.15,497.5 329.13,497.5 331.11,497.5 333.09,497.5 335.07,497.5 337.05,497.5 339.03,497.5 341.01,497.5 342.99,497.5 344.97,497.5 346.95,497.5 348.93,497.5 350.91,497.5 352.89,497.5 354.87,497.5 356.85,497.5 358.83,497.5 360.81,497.5 362.79,497.5 364.77,497.5 366.75,497.5 368.73,497.5 370.71,497.5 372.69,497.5 374.67,497.5 376.65,497.5 378.63,497.5 380.61,497.5 382.59,497.5 384.57,497.5 386.55,497.5 388.53,497.5 390.51,497.5 392.49,497.5 394.47,497.5 396.45,497.5 398.43,497.5 400.41,497.5 402.39,497.5 404.37,497.5 406.35,497.5 408.33,497.5 410.31,497.5 412.29,497.5 414.27,497.5 416.25,497.5 418.23,497.5 420.21,497.5 422.19,497.5 424.17,497.5 426.15,497.5 428.13,497.5 430.11,497.5 432.09,497.5" fill="none" stroke="#f0f" stroke-width="1.1" stroke-dasharray="2.5 1.75" stroke-opacity="0.85"/>
<g fill="#f0f" stroke="#000" stroke-width="0.65"><circle cx="49.95" cy="229.5" r="3.3"/><circle cx="51.93" cy="229.5" r="3.3"/><circle cx="53.91" cy="229.5" r="3.3"/><circle cx="55.89" cy="229.5" r="3.3"/><circle cx="57.87" cy="229.5" r="3.3"/><circle cx="59.85" cy="229.5" r="3.3"/><circle cx="61.83" cy="229.5" r="3.3"/><circle cx="63.81" cy="229.5" r="3.3"/><circle cx="65.79" cy="229.5" r="3.3"/><circle cx="67.77" cy="229.5" r="3.3"/><circle cx="69.75" cy="229.5" r="3.3"/><circle cx="71.73" cy="229.5" r="3.3"/><circle cx="73.71" cy="229.5" r="3.3"/><circle cx="75.69" cy="229.5" r="3.3"/><circle cx="77.67" cy="229.5" r="3.3"/><circle cx="79.65" cy="229.5" r="3.3"/><circle cx="81.63" cy="229.5" r="3.3"/><circle cx="83.61" cy="229.5" r="3.3"/><circle cx="85.59" cy="229.5" r="3.3"/><circle cx="87.57" cy="229.5" r="3.3"/><circle cx="89.55" cy="229.5" r="3.3"/><circle cx="91.53" cy="229.5" r="3.3"/><circle cx="93.51" cy="229.5" r="3.3"/><circle cx="95.49" cy="229.5" r="3.3"/><circle cx="97.47" cy="229.5" r="3.3"/><circle cx="99.45" cy="229.5" r="3.3"/><circle cx="101.43" cy="229.5" r="3.3"/><circle cx="103.41" cy="229.5" r="3.3"/><circle cx="105.39" cy="229.56" r="3.3"/><circle cx="107.37" cy="229.67" r="3.3"/><circle cx="109.35" cy="229.83" r="3.3"/><circle cx="111.33" cy="230.03" r="3.3"/><circle cx="113.31" cy="230.25" r="3.3"/><circle cx="115.29" cy="230.49" r="3.3"/><circle cx="117.27" cy="230.76" r="3.3"/><circle cx="119.25" cy="231.14" r="3.3"/><circle cx="121.23" cy="231.59" r="3.3"/><circle cx="123.21" cy="232.08" r="3.3"/><circle cx="125.19" cy="232.65" r="3.3"/><circle cx="127.17" cy="233.31" r="3.3"/><circle cx="129.15" cy="234.06" r="3.3"/><circle cx="131.13" cy="234.97" r="3.3"/><circle cx="133.11" cy="236.01" r="3.3"/><circle cx="135.09" cy="237.14" r="3.3"/><circle cx="137.07" cy="238.39" r="3.3"/><circle cx="139.05" cy="239.78" r="3.3"/><circle cx="141.03" cy="241.29" r="3.3"/><circle cx="143.01" cy="243.03" r="3.3"/><circle cx="144.99" cy="245.04" r="3.3"/><circle cx="146.97" cy="247.19" r="3.3"/><circle cx="148.95" cy="249.73" r="3.3"/><circle cx="150.93" cy="252.82" r="3.3"/><circle cx="152.91" cy="256.03" r="3.3"/><circle cx="154.89" cy="259.78" r="3.3"/><circle cx="156.87" cy="263.94" r="3.3"/><circle cx="158.85" cy="268.9" r="3.3"/><circle cx="160.83" cy="274.66" r="3.3"/><circle cx="162.81" cy="280.96" r="3.3"/><circle cx="164.79" cy="288.46" r="3.3"/><circle cx="166.77" cy="298.64" r="3.3"/><circle cx="168.75" cy="318.74" r="3.3"/><circle cx="170.73" cy="497.5" r="3.3"/><circle cx="172.71" cy="497.5" r="3.3"/><circle cx="174.69" cy="497.5" r="3.3"/><circle cx="176.67" cy="497.5" r="3.3"/><circle cx="178.65" cy="497.5" r="3.3"/><circle cx="180.63" cy="497.5" r="3.3"/><circle cx="182.61" cy="497.5" r="3.3"/><circle cx="184.59" cy="497.5" r="3.3"/><circle cx="186.57" cy="497.5" r="3.3"/><circle cx="188.55" cy="497.5" r="3.3"/><circle cx="190.53" cy="497.5" r="3.3"/><circle cx="192.51" cy="497.5" r="3.3"/><circle cx="194.49" cy="497.5" r="3.3"/><circle cx="196.47" cy="497.5" r="3.3"/><circle cx="198.45" cy="497.5" r="3.3"/><circle cx="200.43" cy="497.5" r="3.3"/><circle cx="202.41" cy="497.5" r="3.3"/><circle cx="204.39" cy="497.5" r="3.3"/><circle cx="206.37" cy="497.5" r="3.3"/><circle cx="208.35" cy="497.5" r="3.3"/><circle cx="210.33" cy="497.5" r="3.3"/><circle cx="212.31" cy="497.5" r="3.3"/><circle cx="214.29" cy="497.5" r="3.3"/><circle cx="216.27" cy="497.5" r="3.3"/><circle cx="218.25" cy="497.5" r="3.3"/><circle cx="220.23" cy="497.5" r="3.3"/><circle cx="222.21" cy="497.5" r="3.3"/><circle cx="224.19" cy="497.5" r="3.3"/><circle cx="226.17" cy="497.5" r="3.3"/><circle cx="228.15" cy="497.5" r="3.3"/><circle cx="230.13" cy="497.5" r="3.3"/><circle cx="232.11" cy="497.5" r="3.3"/><circle cx="234.09" cy="497.5" r="3.3"/><circle cx="236.07" cy="497.5" r="3.3"/><circle cx="238.05" cy="497.5" r="3.3"/><circle cx="240.03" cy="497.5" r="3.3"/><circle cx="242.01" cy="497.5" r="3.3"/><circle cx="243.99" cy="497.5" r="3.3"/><circle cx="245.97" cy="497.5" r="3.3"/><circle cx="247.95" cy="497.5" r="3.3"/><circle cx="249.93" cy="497.5" r="3.3"/><circle cx="251.91" cy="497.5" r="3.3"/><circle cx="253.89" cy="497.5" r="3.3"/><circle cx="255.87" cy="497.5" r="3.3"/><circle cx="257.85" cy="497.5" r="3.3"/><circle cx="259.83" cy="497.5" r="3.3"/><circle cx="261.81" cy="497.5" r="3.3"/><circle cx="263.79" cy="497.5" r="3.3"/><circle cx="265.77" cy="497.5" r="3.3"/><circle cx="267.75" cy="497.5" r="3.3"/><circle cx="269.73" cy="497.5" r="3.3"/><circle cx="271.71" cy="497.5" r="3.3"/><circle cx="273.69" cy="497.5" r="3.3"/><circle cx="275.67" cy="497.5" r="3.3"/><circle cx="277.65" cy="497.5" r="3.3"/><circle cx="279.63" cy="497.5" r="3.3"/><circle cx="281.61" cy="497.5" r="3.3"/><circle cx="283.59" cy="497.5" r="3.3"/><circle cx="285.57" cy="497.5" r="3.3"/><circle cx="287.55" cy="497.5" r="3.3"/><circle cx="289.53" cy="497.5" r="3.3"/><circle cx="291.51" cy="497.5" r="3.3"/><circle cx="293.49" cy="497.5" r="3.3"/><circle cx="295.47" cy="497.5" r="3.3"/><circle cx="297.45" cy="497.5" r="3.3"/><circle cx="299.43" cy="497.5" r="3.3"/><circle cx="301.41" cy="497.5" r="3.3"/><circle cx="303.39" cy="497.5" r="3.3"/><circle cx="305.37" cy="497.5" r="3.3"/><circle cx="307.35" cy="497.5" r="3.3"/><circle cx="309.33" cy="497.5" r="3.3"/><circle cx="311.31" cy="497.5" r="3.3"/><circle cx="313.29" cy="497.5" r="3.3"/><circle cx="315.27" cy="497.5" r="3.3"/><circle cx="317.25" cy="497.5" r="3.3"/><circle cx="319.23" cy="497.5" r="3.3"/><circle cx="321.21" cy="497.5" r="3.3"/><circle cx="323.19" cy="497.5" r="3.3"/><circle cx="325.17" cy="497.5" r="3.3"/><circle cx="327.15" cy="497.5" r="3.3"/><circle cx="329.13" cy="497.5" r="3.3"/><circle cx="331.11" cy="497.5" r="3.3"/><circle cx="333.09" cy="497.5" r="3.3"/><circle cx="335.07" cy="497.5" r="3.3"/><circle cx="337.05" cy="497.5" r="3.3"/><circle cx="339.03" cy="497.5" r="3.3"/><circle cx="341.01" cy="497.5" r="3.3"/><circle cx="342.99" cy="497.5" r="3.3"/><circle cx="344.97" cy="497.5" r="3.3"/><circle cx="346.95" cy="497.5" r="3.3"/><circle cx="348.93" cy="497.5" r="3.3"/><circle cx="350.91" cy="497.5" r="3.3"/><circle cx="352.89" cy="497.5" r="3.3"/><circle cx="354.87" cy="497.5" r="3.3"/><circle cx="356.85" cy="497.5" r="3.3"/><circle cx="358.83" cy="497.5" r="3.3"/><circle cx="360.81" cy="497.5" r="3.3"/><circle cx="362.79" cy="497.5" r="3.3"/><circle cx="364.77" cy="497.5" r="3.3"/><circle cx="366.75" cy="497.5" r="3.3"/><circle cx="368.73" cy="497.5" r="3.3"/><circle cx="370.71" cy="497.5" r="3.3"/><circle cx="372.69" cy="497.5" r="3.3"/><circle cx="374.67" cy="497.5" r="3.3"/><circle cx="376.65" cy="497.5" r="3.3"/><circle cx="378.63" cy="497.5" r="3.3"/><circle cx="380.61" cy="497.5" r="3.3"/><circle cx="382.59" cy="497.5" r="3.3"/><circle cx="384.57" cy="497.5" r="3.3"/><circle cx="386.55" cy="497.5" r="3.3"/><circle cx="388.53" cy="497.5" r="3.3"/><circle cx="390.51" cy="497.5" r="3.3"/><circle cx="392.49" cy="497.5" r="3.3"/><circle cx="394.47" cy="497.5" r="3.3"/><circle cx="396.45" cy="497.5" r="3.3"/><circle cx="398.43" cy="497.5" r="3.3"/><circle cx="400.41" cy="497.5" r="3.3"/><circle cx="402.39" cy="497.5" r="3.3"/><circle cx="404.37" cy="497.5" r="3.3"/><circle cx="406.35" cy="497.5" r="3.3"/><circle cx="408.33" cy="497.5" r="3.3"/><circle cx="410.31" cy="497.5" r="3.3"/><circle cx="412.29" cy="497.5" r="3.3"/><circle cx="414.27" cy="497.5" r="3.3"/><circle cx="416.25" cy="497.5" r="3.3"/><circle cx="418.23" cy="497.5" r="3.3"/><circle cx="420.21" cy="497.5" r="3.3"/><circle cx="422.19" cy="497.5" r="3.3"/><circle cx="424.17" cy="497.5" r="3.3"/><circle cx="426.15" cy="497.5" r="3.3"/><circle cx="428.13" cy="497.5" r="3.3"/><circle cx="430.11" cy="497.5" r="3.3"/><circle cx="432.09" cy="497.5" r="3.3"/></g>
<polyline points="49.95,229.5 51.93,229.5 53.91,229.5 55.89,229.5 57.87,229.5 59.85,229.5 61.83,229.5 63.81,229.5 65.79,229.5 67.77,229.5 69.75,229.5 71.73,229.5 73.71,229.5 75.69,229.5 77.67,229.5 79.65,229.5 81.63,229.5 83.61,229.5 85.59,229.5 87.57,229.5 89.55,229.5 91.53,229.5 93.51,229.51 95.49,229.52 97.47,229.55 99.45,229.59 101.43,229.64 103.41,229.72 105.39,229.81 107.37,229.93 109.35,230.07 111.33,230.22 113.31,230.4 115.29,230.61 117.27,230.84 119.25,231.11 121.23,231.4 123.21,231.73 125.19,232.08 127.17,232.47 129.15,232.89 131.13,233.34 133.11,233.83 135.09,234.35 137.07,234.91 139.05,235.51 141.03,236.15 143.01,236.83 144.99,237.55 146.97,238.32 148.95,239.14 150.93,240 152.91,240.92 154.89,241.89 156.87,242.92 158.85,244 160.83,245.14 162.81,246.35 164.79,247.62 166.77,248.95 168.75,250.36 170.73,251.83 172.71,253.38 174.69,255.01 176.67,256.7 178.65,258.48 180.63,260.34 182.61,262.28 184.59,264.3 186.57,266.41 188.55,268.6 190.53,270.87 192.51,273.23 194.49,275.68 196.47,278.22 198.45,280.84 200.43,283.56 202.41,286.36 204.39,289.25 206.37,292.23 208.35,295.29 210.33,298.45 212.31,301.71 214.29,305.05 216.27,308.48 218.25,312 220.23,315.61 222.21,319.32 224.19,323.13 226.17,327.04 228.15,331.05 230.13,335.16 232.11,339.36 234.09,343.65 236.07,348.03 238.05,352.51 240.03,357.08 242.01,361.77 243.99,366.57 245.97,371.49 247.95,376.53 249.93,381.72 251.91,387.08 253.89,392.66 255.87,398.55 257.85,404.8 259.83,411.51 261.81,418.79 263.79,426.82 265.77,435.88 267.75,446.53 269.73,460.1 271.71,483.36 273.69,497.5 275.67,497.5 277.65,497.5 279.63,497.5 281.61,497.5 283.59,497.5 285.57,497.5 287.55,497.5 289.53,497.5 291.51,497.5 293.49,497.5 295.47,497.5 297.45,497.5 299.43,497.5 301.41,497.5 303.39,497.5 305.37,497.5 307.35,497.5 309.33,497.5 311.31,497.5 313.29,497.5 315.27,497.5 317.25,497.5 319.23,497.5 321.21,497.5 323.19,497.5 325.17,497.5 327.15,497.5 329.13,497.5 331.11,497.5 333.09,497.5 335.07,497.5 337.05,497.5 339.03,497.5 341.01,497.5 342.99,497.5 344.97,497.5 346.95,497.5 348.93,497.5 350.91,497.5 352.89,497.5 354.87,497.5 356.85,497.5 358.83,497.5 360.81,497.5 362.79,497.5 364.77,497.5 366.75,497.5 368.73,497.5 370.71,497.5 372.69,497.5 374.67,497.5 376.65,497.5 378.63,497.5 380.61,497.5 382.59,497.5 384.57,497.5 386.55,497.5 388.53,497.5 390.51,497.5 392.49,497.5 394.47,497.5 396.45,497.5 398.43,497.5 400.41,497.5 402.39,497.5 404.37,497.5 406.35,497.5 408.33,497.5 410.31,497.5 412.29,497.5 414.27,497.5 416.25,497.5 418.23,497.5 420.21,497.5 422.19,497.5 424.17,497.5 426.15,497.5 428.13,497.5 430.11,497.5 432.09,497.5" fill="none" stroke="#00f" stroke-width="0.8"/>
<g fill="#00f" stroke="#000" stroke-width="0.65"><path d="M47.1 226.65h5.7v5.7h-5.7z"/><path d="M49.08 226.65h5.7v5.7h-5.7z"/><path d="M51.06 226.65h5.7v5.7h-5.7z"/><path d="M53.04 226.65h5.7v5.7h-5.7z"/><path d="M55.02 226.65h5.7v5.7h-5.7z"/><path d="M57 226.65h5.7v5.7h-5.7z"/><path d="M58.98 226.65h5.7v5.7h-5.7z"/><path d="M60.96 226.65h5.7v5.7h-5.7z"/><path d="M62.94 226.65h5.7v5.7h-5.7z"/><path d="M64.92 226.65h5.7v5.7h-5.7z"/><path d="M66.9 226.65h5.7v5.7h-5.7z"/><path d="M68.88 226.65h5.7v5.7h-5.7z"/><path d="M70.86 226.65h5.7v5.7h-5.7z"/><path d="M72.84 226.65h5.7v5.7h-5.7z"/><path d="M74.82 226.65h5.7v5.7h-5.7z"/><path d="M76.8 226.65h5.7v5.7h-5.7z"/><path d="M78.78 226.65h5.7v5.7h-5.7z"/><path d="M80.76 226.65h5.7v5.7h-5.7z"/><path d="M82.74 226.65h5.7v5.7h-5.7z"/><path d="M84.72 226.65h5.7v5.7h-5.7z"/><path d="M86.7 226.65h5.7v5.7h-5.7z"/><path d="M88.68 226.65h5.7v5.7h-5.7z"/><path d="M90.66 226.66h5.7v5.7h-5.7z"/><path d="M92.64 226.67h5.7v5.7h-5.7z"/><path d="M94.62 226.7h5.7v5.7h-5.7z"/><path d="M96.6 226.74h5.7v5.7h-5.7z"/><path d="M98.58 226.79h5.7v5.7h-5.7z"/><path d="M100.56 226.87h5.7v5.7h-5.7z"/><path d="M102.54 226.96h5.7v5.7h-5.7z"/><path d="M104.52 227.08h5.7v5.7h-5.7z"/><path d="M106.5 227.22h5.7v5.7h-5.7z"/><path d="M108.48 227.37h5.7v5.7h-5.7z"/><path d="M110.46 227.55h5.7v5.7h-5.7z"/><path d="M112.44 227.76h5.7v5.7h-5.7z"/><path d="M114.42 227.99h5.7v5.7h-5.7z"/><path d="M116.4 228.26h5.7v5.7h-5.7z"/><path d="M118.38 228.55h5.7v5.7h-5.7z"/><path d="M120.36 228.88h5.7v5.7h-5.7z"/><path d="M122.34 229.23h5.7v5.7h-5.7z"/><path d="M124.32 229.62h5.7v5.7h-5.7z"/><path d="M126.3 230.04h5.7v5.7h-5.7z"/><path d="M128.28 230.49h5.7v5.7h-5.7z"/><path d="M130.26 230.98h5.7v5.7h-5.7z"/><path d="M132.24 231.5h5.7v5.7h-5.7z"/><path d="M134.22 232.06h5.7v5.7h-5.7z"/><path d="M136.2 232.66h5.7v5.7h-5.7z"/><path d="M138.18 233.3h5.7v5.7h-5.7z"/><path d="M140.16 233.98h5.7v5.7h-5.7z"/><path d="M142.14 234.7h5.7v5.7h-5.7z"/><path d="M144.12 235.47h5.7v5.7h-5.7z"/><path d="M146.1 236.29h5.7v5.7h-5.7z"/><path d="M148.08 237.15h5.7v5.7h-5.7z"/><path d="M150.06 238.07h5.7v5.7h-5.7z"/><path d="M152.04 239.04h5.7v5.7h-5.7z"/><path d="M154.02 240.07h5.7v5.7h-5.7z"/><path d="M156 241.15h5.7v5.7h-5.7z"/><path d="M157.98 242.29h5.7v5.7h-5.7z"/><path d="M159.96 243.5h5.7v5.7h-5.7z"/><path d="M161.94 244.77h5.7v5.7h-5.7z"/><path d="M163.92 246.1h5.7v5.7h-5.7z"/><path d="M165.9 247.51h5.7v5.7h-5.7z"/><path d="M167.88 248.98h5.7v5.7h-5.7z"/><path d="M169.86 250.53h5.7v5.7h-5.7z"/><path d="M171.84 252.16h5.7v5.7h-5.7z"/><path d="M173.82 253.85h5.7v5.7h-5.7z"/><path d="M175.8 255.63h5.7v5.7h-5.7z"/><path d="M177.78 257.49h5.7v5.7h-5.7z"/><path d="M179.76 259.43h5.7v5.7h-5.7z"/><path d="M181.74 261.45h5.7v5.7h-5.7z"/><path d="M183.72 263.56h5.7v5.7h-5.7z"/><path d="M185.7 265.75h5.7v5.7h-5.7z"/><path d="M187.68 268.02h5.7v5.7h-5.7z"/><path d="M189.66 270.38h5.7v5.7h-5.7z"/><path d="M191.64 272.83h5.7v5.7h-5.7z"/><path d="M193.62 275.37h5.7v5.7h-5.7z"/><path d="M195.6 277.99h5.7v5.7h-5.7z"/><path d="M197.58 280.71h5.7v5.7h-5.7z"/><path d="M199.56 283.51h5.7v5.7h-5.7z"/><path d="M201.54 286.4h5.7v5.7h-5.7z"/><path d="M203.52 289.38h5.7v5.7h-5.7z"/><path d="M205.5 292.44h5.7v5.7h-5.7z"/><path d="M207.48 295.6h5.7v5.7h-5.7z"/><path d="M209.46 298.86h5.7v5.7h-5.7z"/><path d="M211.44 302.2h5.7v5.7h-5.7z"/><path d="M213.42 305.63h5.7v5.7h-5.7z"/><path d="M215.4 309.15h5.7v5.7h-5.7z"/><path d="M217.38 312.76h5.7v5.7h-5.7z"/><path d="M219.36 316.47h5.7v5.7h-5.7z"/><path d="M221.34 320.28h5.7v5.7h-5.7z"/><path d="M223.32 324.19h5.7v5.7h-5.7z"/><path d="M225.3 328.2h5.7v5.7h-5.7z"/><path d="M227.28 332.31h5.7v5.7h-5.7z"/><path d="M229.26 336.51h5.7v5.7h-5.7z"/><path d="M231.24 340.8h5.7v5.7h-5.7z"/><path d="M233.22 345.18h5.7v5.7h-5.7z"/><path d="M235.2 349.66h5.7v5.7h-5.7z"/><path d="M237.18 354.23h5.7v5.7h-5.7z"/><path d="M239.16 358.92h5.7v5.7h-5.7z"/><path d="M241.14 363.72h5.7v5.7h-5.7z"/><path d="M243.12 368.64h5.7v5.7h-5.7z"/><path d="M245.1 373.68h5.7v5.7h-5.7z"/><path d="M247.08 378.87h5.7v5.7h-5.7z"/><path d="M249.06 384.23h5.7v5.7h-5.7z"/><path d="M251.04 389.81h5.7v5.7h-5.7z"/><path d="M253.02 395.7h5.7v5.7h-5.7z"/><path d="M255 401.95h5.7v5.7h-5.7z"/><path d="M256.98 408.66h5.7v5.7h-5.7z"/><path d="M258.96 415.94h5.7v5.7h-5.7z"/><path d="M260.94 423.97h5.7v5.7h-5.7z"/><path d="M262.92 433.03h5.7v5.7h-5.7z"/><path d="M264.9 443.68h5.7v5.7h-5.7z"/><path d="M266.88 457.25h5.7v5.7h-5.7z"/><path d="M268.86 480.51h5.7v5.7h-5.7z"/><path d="M270.84 494.65h5.7v5.7h-5.7z"/><path d="M272.82 494.65h5.7v5.7h-5.7z"/><path d="M274.8 494.65h5.7v5.7h-5.7z"/><path d="M276.78 494.65h5.7v5.7h-5.7z"/><path d="M278.76 494.65h5.7v5.7h-5.7z"/><path d="M280.74 494.65h5.7v5.7h-5.7z"/><path d="M282.72 494.65h5.7v5.7h-5.7z"/><path d="M284.7 494.65h5.7v5.7h-5.7z"/><path d="M286.68 494.65h5.7v5.7h-5.7z"/><path d="M288.66 494.65h5.7v5.7h-5.7z"/><path d="M290.64 494.65h5.7v5.7h-5.7z"/><path d="M292.62 494.65h5.7v5.7h-5.7z"/><path d="M294.6 494.65h5.7v5.7h-5.7z"/><path d="M296.58 494.65h5.7v5.7h-5.7z"/><path d="M298.56 494.65h5.7v5.7h-5.7z"/><path d="M300.54 494.65h5.7v5.7h-5.7z"/><path d="M302.52 494.65h5.7v5.7h-5.7z"/><path d="M304.5 494.65h5.7v5.7h-5.7z"/><path d="M306.48 494.65h5.7v5.7h-5.7z"/><path d="M308.46 494.65h5.7v5.7h-5.7z"/><path d="M310.44 494.65h5.7v5.7h-5.7z"/><path d="M312.42 494.65h5.7v5.7h-5.7z"/><path d="M314.4 494.65h5.7v5.7h-5.7z"/><path d="M316.38 494.65h5.7v5.7h-5.7z"/><path d="M318.36 494.65h5.7v5.7h-5.7z"/><path d="M320.34 494.65h5.7v5.7h-5.7z"/><path d="M322.32 494.65h5.7v5.7h-5.7z"/><path d="M324.3 494.65h5.7v5.7h-5.7z"/><path d="M326.28 494.65h5.7v5.7h-5.7z"/><path d="M328.26 494.65h5.7v5.7h-5.7z"/><path d="M330.24 494.65h5.7v5.7h-5.7z"/><path d="M332.22 494.65h5.7v5.7h-5.7z"/><path d="M334.2 494.65h5.7v5.7h-5.7z"/><path d="M336.18 494.65h5.7v5.7h-5.7z"/><path d="M338.16 494.65h5.7v5.7h-5.7z"/><path d="M340.14 494.65h5.7v5.7h-5.7z"/><path d="M342.12 494.65h5.7v5.7h-5.7z"/><path d="M344.1 494.65h5.7v5.7h-5.7z"/><path d="M346.08 494.65h5.7v5.7h-5.7z"/><path d="M348.06 494.65h5.7v5.7h-5.7z"/><path d="M350.04 494.65h5.7v5.7h-5.7z"/><path d="M352.02 494.65h5.7v5.7h-5.7z"/><path d="M354 494.65h5.7v5.7h-5.7z"/><path d="M355.98 494.65h5.7v5.7h-5.7z"/><path d="M357.96 494.65h5.7v5.7h-5.7z"/><path d="M359.94 494.65h5.7v5.7h-5.7z"/><path d="M361.92 494.65h5.7v5.7h-5.7z"/><path d="M363.9 494.65h5.7v5.7h-5.7z"/><path d="M365.88 494.65h5.7v5.7h-5.7z"/><path d="M367.86 494.65h5.7v5.7h-5.7z"/><path d="M369.84 494.65h5.7v5.7h-5.7z"/><path d="M371.82 494.65h5.7v5.7h-5.7z"/><path d="M373.8 494.65h5.7v5.7h-5.7z"/><path d="M375.78 494.65h5.7v5.7h-5.7z"/><path d="M377.76 494.65h5.7v5.7h-5.7z"/><path d="M379.74 494.65h5.7v5.7h-5.7z"/><path d="M381.72 494.65h5.7v5.7h-5.7z"/><path d="M383.7 494.65h5.7v5.7h-5.7z"/><path d="M385.68 494.65h5.7v5.7h-5.7z"/><path d="M387.66 494.65h5.7v5.7h-5.7z"/><path d="M389.64 494.65h5.7v5.7h-5.7z"/><path d="M391.62 494.65h5.7v5.7h-5.7z"/><path d="M393.6 494.65h5.7v5.7h-5.7z"/><path d="M395.58 494.65h5.7v5.7h-5.7z"/><path d="M397.56 494.65h5.7v5.7h-5.7z"/><path d="M399.54 494.65h5.7v5.7h-5.7z"/><path d="M401.52 494.65h5.7v5.7h-5.7z"/><path d="M403.5 494.65h5.7v5.7h-5.7z"/><path d="M405.48 494.65h5.7v5.7h-5.7z"/><path d="M407.46 494.65h5.7v5.7h-5.7z"/><path d="M409.44 494.65h5.7v5.7h-5.7z"/><path d="M411.42 494.65h5.7v5.7h-5.7z"/><path d="M413.4 494.65h5.7v5.7h-5.7z"/><path d="M415.38 494.65h5.7v5.7h-5.7z"/><path d="M417.36 494.65h5.7v5.7h-5.7z"/><path d="M419.34 494.65h5.7v5.7h-5.7z"/><path d="M421.32 494.65h5.7v5.7h-5.7z"/><path d="M423.3 494.65h5.7v5.7h-5.7z"/><path d="M425.28 494.65h5.7v5.7h-5.7z"/><path d="M427.26 494.65h5.7v5.7h-5.7z"/><path d="M429.24 494.65h5.7v5.7h-5.7z"/></g>
<polyline points="49.95,229.5 51.93,229.5 53.91,229.5 55.89,229.5 57.87,229.5 59.85,229.5 61.83,229.5 63.81,229.5 65.79,229.5 67.77,229.5 69.75,229.5 71.73,229.5 73.71,229.5 75.69,229.5 77.67,229.5 79.65,229.5 81.63,229.5 83.61,229.5 85.59,229.5 87.57,229.5 89.55,229.5 91.53,229.5 93.51,229.5 95.49,229.5 97.47,229.51 99.45,229.51 101.43,229.52 103.41,229.53 105.39,229.54 107.37,229.55 109.35,229.57 111.33,229.59 113.31,229.62 115.29,229.65 117.27,229.69 119.25,229.73 121.23,229.78 123.21,229.84 125.19,229.91 127.17,229.99 129.15,230.07 131.13,230.17 133.11,230.28 135.09,230.41 137.07,230.55 139.05,230.71 141.03,230.89 143.01,231.09 144.99,231.3 146.97,231.55 148.95,231.82 150.93,232.12 152.91,232.45 154.89,232.82 156.87,233.22 158.85,233.67 160.83,234.16 162.81,234.7 164.79,235.29 166.77,235.94 168.75,236.64 170.73,237.41 172.71,238.25 174.69,239.15 176.67,240.13 178.65,241.19 180.63,242.32 182.61,243.54 184.59,244.85 186.57,246.25 188.55,247.74 190.53,249.33 192.51,251.02 194.49,252.81 196.47,254.71 198.45,256.72 200.43,258.83 202.41,261.06 204.39,263.41 206.37,265.87 208.35,268.45 210.33,271.16 212.31,273.99 214.29,276.94 216.27,280.02 218.25,283.23 220.23,286.56 222.21,290.03 224.19,293.62 226.17,297.36 228.15,301.23 230.13,305.24 232.11,309.39 234.09,313.7 236.07,318.15 238.05,322.78 240.03,327.58 242.01,332.57 243.99,337.77 245.97,343.2 247.95,348.88 249.93,354.84 251.91,361.12 253.89,367.76 255.87,374.82 257.85,382.36 259.83,390.49 261.81,399.35 263.79,409.16 265.77,420.28 267.75,433.39 269.73,450.09 271.71,478.12 273.69,497.5 275.67,497.5 277.65,497.5 279.63,497.5 281.61,497.5 283.59,497.5 285.57,497.5 287.55,497.5 289.53,497.5 291.51,497.5 293.49,497.5 295.47,497.5 297.45,497.5 299.43,497.5 301.41,497.5 303.39,497.5 305.37,497.5 307.35,497.5 309.33,497.5 311.31,497.5 313.29,497.5 315.27,497.5 317.25,497.5 319.23,497.5 321.21,497.5 323.19,497.5 325.17,497.5 327.15,497.5 329.13,497.5 331.11,497.5 333.09,497.5 335.07,497.5 337.05,497.5 339.03,497.5 341.01,497.5 342.99,497.5 344.97,497.5 346.95,497.5 348.93,497.5 350.91,497.5 352.89,497.5 354.87,497.5 356.85,497.5 358.83,497.5 360.81,497.5 362.79,497.5 364.77,497.5 366.75,497.5 368.73,497.5 370.71,497.5 372.69,497.5 374.67,497.5 376.65,497.5 378.63,497.5 380.61,497.5 382.59,497.5 384.57,497.5 386.55,497.5 388.53,497.5 390.51,497.5 392.49,497.5 394.47,497.5 396.45,497.5 398.43,497.5 400.41,497.5 402.39,497.5 404.37,497.5 406.35,497.5 408.33,497.5 410.31,497.5 412.29,497.5 414.27,497.5 416.25,497.5 418.23,497.5 420.21,497.5 422.19,497.5 424.17,497.5 426.15,497.5 428.13,497.5 430.11,497.5 432.09,497.5" fill="none" stroke="#00f" stroke-width="0.8"/>
<g fill="#00f" stroke="#000" stroke-width="0.65"><circle cx="49.95" cy="229.5" r="3.3"/><circle cx="51.93" cy="229.5" r="3.3"/><circle cx="53.91" cy="229.5" r="3.3"/><circle cx="55.89" cy="229.5" r="3.3"/><circle cx="57.87" cy="229.5" r="3.3"/><circle cx="59.85" cy="229.5" r="3.3"/><circle cx="61.83" cy="229.5" r="3.3"/><circle cx="63.81" cy="229.5" r="3.3"/><circle cx="65.79" cy="229.5" r="3.3"/><circle cx="67.77" cy="229.5" r="3.3"/><circle cx="69.75" cy="229.5" r="3.3"/><circle cx="71.73" cy="229.5" r="3.3"/><circle cx="73.71" cy="229.5" r="3.3"/><circle cx="75.69" cy="229.5" r="3.3"/><circle cx="77.67" cy="229.5" r="3.3"/><circle cx="79.65" cy="229.5" r="3.3"/><circle cx="81.63" cy="229.5" r="3.3"/><circle cx="83.61" cy="229.5" r="3.3"/><circle cx="85.59" cy="229.5" r="3.3"/><circle cx="87.57" cy="229.5" r="3.3"/><circle cx="89.55" cy="229.5" r="3.3"/><circle cx="91.53" cy="229.5" r="3.3"/><circle cx="93.51" cy="229.5" r="3.3"/><circle cx="95.49" cy="229.5" r="3.3"/><circle cx="97.47" cy="229.51" r="3.3"/><circle cx="99.45" cy="229.51" r="3.3"/><circle cx="101.43" cy="229.52" r="3.3"/><circle cx="103.41" cy="229.53" r="3.3"/><circle cx="105.39" cy="229.54" r="3.3"/><circle cx="107.37" cy="229.55" r="3.3"/><circle cx="109.35" cy="229.57" r="3.3"/><circle cx="111.33" cy="229.59" r="3.3"/><circle cx="113.31" cy="229.62" r="3.3"/><circle cx="115.29" cy="229.65" r="3.3"/><circle cx="117.27" cy="229.69" r="3.3"/><circle cx="119.25" cy="229.73" r="3.3"/><circle cx="121.23" cy="229.78" r="3.3"/><circle cx="123.21" cy="229.84" r="3.3"/><circle cx="125.19" cy="229.91" r="3.3"/><circle cx="127.17" cy="229.99" r="3.3"/><circle cx="129.15" cy="230.07" r="3.3"/><circle cx="131.13" cy="230.17" r="3.3"/><circle cx="133.11" cy="230.28" r="3.3"/><circle cx="135.09" cy="230.41" r="3.3"/><circle cx="137.07" cy="230.55" r="3.3"/><circle cx="139.05" cy="230.71" r="3.3"/><circle cx="141.03" cy="230.89" r="3.3"/><circle cx="143.01" cy="231.09" r="3.3"/><circle cx="144.99" cy="231.3" r="3.3"/><circle cx="146.97" cy="231.55" r="3.3"/><circle cx="148.95" cy="231.82" r="3.3"/><circle cx="150.93" cy="232.12" r="3.3"/><circle cx="152.91" cy="232.45" r="3.3"/><circle cx="154.89" cy="232.82" r="3.3"/><circle cx="156.87" cy="233.22" r="3.3"/><circle cx="158.85" cy="233.67" r="3.3"/><circle cx="160.83" cy="234.16" r="3.3"/><circle cx="162.81" cy="234.7" r="3.3"/><circle cx="164.79" cy="235.29" r="3.3"/><circle cx="166.77" cy="235.94" r="3.3"/><circle cx="168.75" cy="236.64" r="3.3"/><circle cx="170.73" cy="237.41" r="3.3"/><circle cx="172.71" cy="238.25" r="3.3"/><circle cx="174.69" cy="239.15" r="3.3"/><circle cx="176.67" cy="240.13" r="3.3"/><circle cx="178.65" cy="241.19" r="3.3"/><circle cx="180.63" cy="242.32" r="3.3"/><circle cx="182.61" cy="243.54" r="3.3"/><circle cx="184.59" cy="244.85" r="3.3"/><circle cx="186.57" cy="246.25" r="3.3"/><circle cx="188.55" cy="247.74" r="3.3"/><circle cx="190.53" cy="249.33" r="3.3"/><circle cx="192.51" cy="251.02" r="3.3"/><circle cx="194.49" cy="252.81" r="3.3"/><circle cx="196.47" cy="254.71" r="3.3"/><circle cx="198.45" cy="256.72" r="3.3"/><circle cx="200.43" cy="258.83" r="3.3"/><circle cx="202.41" cy="261.06" r="3.3"/><circle cx="204.39" cy="263.41" r="3.3"/><circle cx="206.37" cy="265.87" r="3.3"/><circle cx="208.35" cy="268.45" r="3.3"/><circle cx="210.33" cy="271.16" r="3.3"/><circle cx="212.31" cy="273.99" r="3.3"/><circle cx="214.29" cy="276.94" r="3.3"/><circle cx="216.27" cy="280.02" r="3.3"/><circle cx="218.25" cy="283.23" r="3.3"/><circle cx="220.23" cy="286.56" r="3.3"/><circle cx="222.21" cy="290.03" r="3.3"/><circle cx="224.19" cy="293.62" r="3.3"/><circle cx="226.17" cy="297.36" r="3.3"/><circle cx="228.15" cy="301.23" r="3.3"/><circle cx="230.13" cy="305.24" r="3.3"/><circle cx="232.11" cy="309.39" r="3.3"/><circle cx="234.09" cy="313.7" r="3.3"/><circle cx="236.07" cy="318.15" r="3.3"/><circle cx="238.05" cy="322.78" r="3.3"/><circle cx="240.03" cy="327.58" r="3.3"/><circle cx="242.01" cy="332.57" r="3.3"/><circle cx="243.99" cy="337.77" r="3.3"/><circle cx="245.97" cy="343.2" r="3.3"/><circle cx="247.95" cy="348.88" r="3.3"/><circle cx="249.93" cy="354.84" r="3.3"/><circle cx="251.91" cy="361.12" r="3.3"/><circle cx="253.89" cy="367.76" r="3.3"/><circle cx="255.87" cy="374.82" r="3.3"/><circle cx="257.85" cy="382.36" r="3.3"/><circle cx="259.83" cy="390.49" r="3.3"/><circle cx="261.81" cy="399.35" r="3.3"/><circle cx="263.79" cy="409.16" r="3.3"/><circle cx="265.77" cy="420.28" r="3.3"/><circle cx="267.75" cy="433.39" r="3.3"/><circle cx="269.73" cy="450.09" r="3.3"/><circle cx="271.71" cy="478.12" r="3.3"/><circle cx="273.69" cy="497.5" r="3.3"/><circle cx="275.67" cy="497.5" r="3.3"/><circle cx="277.65" cy="497.5" r="3.3"/><circle cx="279.63" cy="497.5" r="3.3"/><circle cx="281.61" cy="497.5" r="3.3"/><circle cx="283.59" cy="497.5" r="3.3"/><circle cx="285.57" cy="497.5" r="3.3"/><circle cx="287.55" cy="497.5" r="3.3"/><circle cx="289.53" cy="497.5" r="3.3"/><circle cx="291.51" cy="497.5" r="3.3"/><circle cx="293.49" cy="497.5" r="3.3"/><circle cx="295.47" cy="497.5" r="3.3"/><circle cx="297.45" cy="497.5" r="3.3"/><circle cx="299.43" cy="497.5" r="3.3"/><circle cx="301.41" cy="497.5" r="3.3"/><circle cx="303.39" cy="497.5" r="3.3"/><circle cx="305.37" cy="497.5" r="3.3"/><circle cx="307.35" cy="497.5" r="3.3"/><circle cx="309.33" cy="497.5" r="3.3"/><circle cx="311.31" cy="497.5" r="3.3"/><circle cx="313.29" cy="497.5" r="3.3"/><circle cx="315.27" cy="497.5" r="3.3"/><circle cx="317.25" cy="497.5" r="3.3"/><circle cx="319.23" cy="497.5" r="3.3"/><circle cx="321.21" cy="497.5" r="3.3"/><circle cx="323.19" cy="497.5" r="3.3"/><circle cx="325.17" cy="497.5" r="3.3"/><circle cx="327.15" cy="497.5" r="3.3"/><circle cx="329.13" cy="497.5" r="3.3"/><circle cx="331.11" cy="497.5" r="3.3"/><circle cx="333.09" cy="497.5" r="3.3"/><circle cx="335.07" cy="497.5" r="3.3"/><circle cx="337.05" cy="497.5" r="3.3"/><circle cx="339.03" cy="497.5" r="3.3"/><circle cx="341.01" cy="497.5" r="3.3"/><circle cx="342.99" cy="497.5" r="3.3"/><circle cx="344.97" cy="497.5" r="3.3"/><circle cx="346.95" cy="497.5" r="3.3"/><circle cx="348.93" cy="497.5" r="3.3"/><circle cx="350.91" cy="497.5" r="3.3"/><circle cx="352.89" cy="497.5" r="3.3"/><circle cx="354.87" cy="497.5" r="3.3"/><circle cx="356.85" cy="497.5" r="3.3"/><circle cx="358.83" cy="497.5" r="3.3"/><circle cx="360.81" cy="497.5" r="3.3"/><circle cx="362.79" cy="497.5" r="3.3"/><circle cx="364.77" cy="497.5" r="3.3"/><circle cx="366.75" cy="497.5" r="3.3"/><circle cx="368.73" cy="497.5" r="3.3"/><circle cx="370.71" cy="497.5" r="3.3"/><circle cx="372.69" cy="497.5" r="3.3"/><circle cx="374.67" cy="497.5" r="3.3"/><circle cx="376.65" cy="497.5" r="3.3"/><circle cx="378.63" cy="497.5" r="3.3"/><circle cx="380.61" cy="497.5" r="3.3"/><circle cx="382.59" cy="497.5" r="3.3"/><circle cx="384.57" cy="497.5" r="3.3"/><circle cx="386.55" cy="497.5" r="3.3"/><circle cx="388.53" cy="497.5" r="3.3"/><circle cx="390.51" cy="497.5" r="3.3"/><circle cx="392.49" cy="497.5" r="3.3"/><circle cx="394.47" cy="497.5" r="3.3"/><circle cx="396.45" cy="497.5" r="3.3"/><circle cx="398.43" cy="497.5" r="3.3"/><circle cx="400.41" cy="497.5" r="3.3"/><circle cx="402.39" cy="497.5" r="3.3"/><circle cx="404.37" cy="497.5" r="3.3"/><circle cx="406.35" cy="497.5" r="3.3"/><circle cx="408.33" cy="497.5" r="3.3"/><circle cx="410.31" cy="497.5" r="3.3"/><circle cx="412.29" cy="497.5" r="3.3"/><circle cx="414.27" cy="497.5" r="3.3"/><circle cx="416.25" cy="497.5" r="3.3"/><circle cx="418.23" cy="497.5" r="3.3"/><circle cx="420.21" cy="497.5" r="3.3"/><circle cx="422.19" cy="497.5" r="3.3"/><circle cx="424.17" cy="497.5" r="3.3"/><circle cx="426.15" cy="497.5" r="3.3"/><circle cx="428.13" cy="497.5" r="3.3"/><circle cx="430.11" cy="497.5" r="3.3"/><circle cx="432.09" cy="497.5" r="3.3"/></g>
</g>
<g>
<path d="M383.3 218.1H417.3M383.3 241.8H417.3" stroke="#f00" stroke-opacity="0.45" stroke-width="1.1" fill="none"/>
<rect x="397.5" y="215.2" width="5.8" height="5.8" fill="#f00" stroke="#000" stroke-width="0.5"/>
<circle cx="400.4" cy="241.9" r="3.1" fill="#f00" stroke="#000" stroke-width="0.5"/>
</g>
<g fill="#000" style="filter:grayscale(1)">
<text x="43.6" y="501.2" text-anchor="end" font-size="12.5">0.0</text>
<text x="43.6" y="447.6" text-anchor="end" font-size="12.5">0.2</text>
<text x="43.6" y="394" text-anchor="end" font-size="12.5">0.4</text>
<text x="43.6" y="340.4" text-anchor="end" font-size="12.5">0.6</text>
<text x="43.6" y="286.8" text-anchor="end" font-size="12.5">0.8</text>
<text x="43.6" y="233.2" text-anchor="end" font-size="12.5">1.0</text>
<text x="49.2" y="513.6" text-anchor="middle" font-size="12.5">0</text>
<text x="115.2" y="513.6" text-anchor="middle" font-size="12.5">1</text>
<text x="181.2" y="513.6" text-anchor="middle" font-size="12.5">2</text>
<text x="247.2" y="513.6" text-anchor="middle" font-size="12.5">3</text>
<text x="313.2" y="513.6" text-anchor="middle" font-size="12.5">4</text>
<text x="379.2" y="513.6" text-anchor="middle" font-size="12.5">5</text>
<text x="170.8" y="339.3" font-size="14.8">1.25</text>
<text x="232" y="409.6" font-size="14.8">1.5</text>
<text x="296.1" y="441.6" font-size="14.8">1.75</text>
<text x="379.2" y="488.5" font-size="14.8">2.0</text>
<text x="62" y="446.9" font-size="14.8">L=3</text>
<text x="62" y="465.6" font-size="14.8">p=0.0</text>
<text x="62" y="484.4" font-size="14.8">h=3.0</text>
<text x="226.5" y="537" font-size="16">k<tspan font-size="12.3" dy="4.8">B</tspan><tspan dy="-4.8">T/J</tspan><tspan font-size="12.3" dy="4.8">b</tspan></text>
<text transform="translate(14.8,381.8) rotate(-90)" font-size="15.3">m<tspan font-size="12.3" dy="4.8">b</tspan><tspan dy="-4.8">, m</tspan><tspan font-size="12.3" dy="4.8">s</tspan></text>
<text x="421.2" y="222.8" font-size="14">m</text><text x="421.2" y="247" font-size="14">m</text>
</g>
</svg>
</body></html>
